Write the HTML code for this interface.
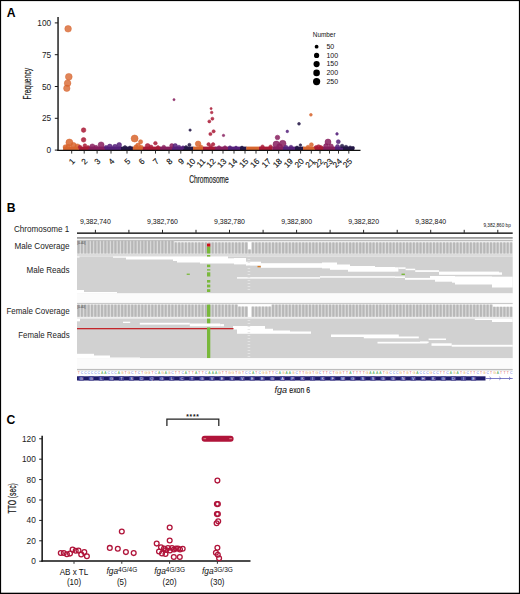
<!DOCTYPE html>
<html><head><meta charset="utf-8"><style>
html,body{margin:0;padding:0;background:#fff;}
svg{display:block;}
text{font-family:"Liberation Sans",sans-serif;}
</style></head><body>
<svg width="520" height="594" viewBox="0 0 520 594">
<rect x="0" y="0" width="520" height="594" fill="#fff"/>
<g id="panelA">
<text x="6.7" y="16.8" font-weight="bold" font-size="12.2" fill="#000">A</text>
<rect x="63.1" y="146.6" width="16.2" height="3.4" fill="#D8662F"/>
<rect x="79.0" y="146.6" width="9.3" height="3.4" fill="#AA1B37"/>
<rect x="88.0" y="146.6" width="17.3" height="3.4" fill="#881F5F"/>
<rect x="105.0" y="146.6" width="16.3" height="3.4" fill="#55217C"/>
<rect x="121.0" y="146.6" width="12.1" height="3.4" fill="#241746"/>
<rect x="132.8" y="146.6" width="10.1" height="3.4" fill="#D8662F"/>
<rect x="142.6" y="146.6" width="17.7" height="3.4" fill="#AA1B37"/>
<rect x="160.0" y="146.6" width="12.3" height="3.4" fill="#881F5F"/>
<rect x="172.0" y="146.6" width="11.3" height="3.4" fill="#55217C"/>
<rect x="183.0" y="146.6" width="10.3" height="3.4" fill="#241746"/>
<rect x="193.0" y="146.6" width="10.3" height="3.4" fill="#D8662F"/>
<rect x="203.0" y="146.6" width="12.3" height="3.4" fill="#AA1B37"/>
<rect x="215.0" y="146.6" width="13.3" height="3.4" fill="#881F5F"/>
<rect x="228.0" y="146.6" width="12.3" height="3.4" fill="#55217C"/>
<rect x="240.0" y="146.6" width="6.6" height="3.4" fill="#241746"/>
<rect x="246.3" y="146.6" width="13.0" height="3.4" fill="#D8662F"/>
<rect x="259.0" y="146.6" width="13.6" height="3.4" fill="#AA1B37"/>
<rect x="272.3" y="146.6" width="11.0" height="3.4" fill="#881F5F"/>
<rect x="283.0" y="146.6" width="12.3" height="3.4" fill="#55217C"/>
<rect x="295.0" y="146.6" width="8.3" height="3.4" fill="#241746"/>
<rect x="303.0" y="146.6" width="12.3" height="3.4" fill="#D8662F"/>
<rect x="315.0" y="146.6" width="8.3" height="3.4" fill="#AA1B37"/>
<rect x="323.0" y="146.6" width="12.3" height="3.4" fill="#881F5F"/>
<rect x="335.0" y="146.6" width="8.3" height="3.4" fill="#55217C"/>
<rect x="343.0" y="146.6" width="11.3" height="3.4" fill="#241746"/>
<circle cx="69.4" cy="142.5" r="3.50" fill="#D8662F" fill-opacity="0.86" stroke="#D8662F" stroke-opacity="0.86" stroke-width="0.6"/>
<circle cx="73.5" cy="145.2" r="2.80" fill="#D8662F" fill-opacity="0.86" stroke="#D8662F" stroke-opacity="0.86" stroke-width="0.6"/>
<circle cx="77.5" cy="146.5" r="2.60" fill="#D8662F" fill-opacity="0.86" stroke="#D8662F" stroke-opacity="0.86" stroke-width="0.6"/>
<circle cx="65.4" cy="147" r="2.30" fill="#D8662F" fill-opacity="0.86" stroke="#D8662F" stroke-opacity="0.86" stroke-width="0.6"/>
<circle cx="68.2" cy="146.5" r="2.20" fill="#D8662F" fill-opacity="0.86" stroke="#D8662F" stroke-opacity="0.86" stroke-width="0.6"/>
<circle cx="83.6" cy="130.1" r="2.30" fill="#AA1B37" fill-opacity="0.86" stroke="#AA1B37" stroke-opacity="0.86" stroke-width="0.6"/>
<circle cx="83.6" cy="139.8" r="2.30" fill="#AA1B37" fill-opacity="0.86" stroke="#AA1B37" stroke-opacity="0.86" stroke-width="0.6"/>
<circle cx="84.9" cy="145.5" r="1.80" fill="#AA1B37" fill-opacity="0.86" stroke="#AA1B37" stroke-opacity="0.86" stroke-width="0.6"/>
<circle cx="80" cy="147" r="1.80" fill="#AA1B37" fill-opacity="0.86" stroke="#AA1B37" stroke-opacity="0.86" stroke-width="0.6"/>
<circle cx="88" cy="147.2" r="1.60" fill="#AA1B37" fill-opacity="0.86" stroke="#AA1B37" stroke-opacity="0.86" stroke-width="0.6"/>
<circle cx="92.3" cy="146.5" r="2.60" fill="#881F5F" fill-opacity="0.86" stroke="#881F5F" stroke-opacity="0.86" stroke-width="0.6"/>
<circle cx="101.1" cy="144.9" r="3.00" fill="#881F5F" fill-opacity="0.86" stroke="#881F5F" stroke-opacity="0.86" stroke-width="0.6"/>
<circle cx="96" cy="147.3" r="2.00" fill="#881F5F" fill-opacity="0.86" stroke="#881F5F" stroke-opacity="0.86" stroke-width="0.6"/>
<circle cx="109.8" cy="146.6" r="2.50" fill="#55217C" fill-opacity="0.86" stroke="#55217C" stroke-opacity="0.86" stroke-width="0.6"/>
<circle cx="115" cy="146.6" r="2.30" fill="#55217C" fill-opacity="0.86" stroke="#55217C" stroke-opacity="0.86" stroke-width="0.6"/>
<circle cx="119.2" cy="144.9" r="2.40" fill="#55217C" fill-opacity="0.86" stroke="#55217C" stroke-opacity="0.86" stroke-width="0.6"/>
<circle cx="106" cy="147.2" r="1.80" fill="#55217C" fill-opacity="0.86" stroke="#55217C" stroke-opacity="0.86" stroke-width="0.6"/>
<circle cx="125" cy="147.4" r="1.80" fill="#241746" fill-opacity="0.86" stroke="#241746" stroke-opacity="0.86" stroke-width="0.6"/>
<circle cx="130" cy="147.6" r="1.60" fill="#241746" fill-opacity="0.86" stroke="#241746" stroke-opacity="0.86" stroke-width="0.6"/>
<circle cx="134.6" cy="138.5" r="3.50" fill="#D8662F" fill-opacity="0.86" stroke="#D8662F" stroke-opacity="0.86" stroke-width="0.6"/>
<circle cx="140.6" cy="141.8" r="2.10" fill="#D8662F" fill-opacity="0.86" stroke="#D8662F" stroke-opacity="0.86" stroke-width="0.6"/>
<circle cx="138" cy="145.5" r="2.40" fill="#D8662F" fill-opacity="0.86" stroke="#D8662F" stroke-opacity="0.86" stroke-width="0.6"/>
<circle cx="136" cy="147" r="2.20" fill="#D8662F" fill-opacity="0.86" stroke="#D8662F" stroke-opacity="0.86" stroke-width="0.6"/>
<circle cx="141.2" cy="147" r="1.80" fill="#D8662F" fill-opacity="0.86" stroke="#D8662F" stroke-opacity="0.86" stroke-width="0.6"/>
<circle cx="147.6" cy="145.9" r="2.40" fill="#AA1B37" fill-opacity="0.86" stroke="#AA1B37" stroke-opacity="0.86" stroke-width="0.6"/>
<circle cx="155.4" cy="143.2" r="1.80" fill="#AA1B37" fill-opacity="0.86" stroke="#AA1B37" stroke-opacity="0.86" stroke-width="0.6"/>
<circle cx="151" cy="147" r="2.00" fill="#AA1B37" fill-opacity="0.86" stroke="#AA1B37" stroke-opacity="0.86" stroke-width="0.6"/>
<circle cx="158" cy="147.2" r="1.60" fill="#AA1B37" fill-opacity="0.86" stroke="#AA1B37" stroke-opacity="0.86" stroke-width="0.6"/>
<circle cx="163.8" cy="147" r="1.80" fill="#881F5F" fill-opacity="0.86" stroke="#881F5F" stroke-opacity="0.86" stroke-width="0.6"/>
<circle cx="171.8" cy="145.7" r="2.10" fill="#881F5F" fill-opacity="0.86" stroke="#881F5F" stroke-opacity="0.86" stroke-width="0.6"/>
<circle cx="174" cy="99.7" r="1.10" fill="#881F5F" fill-opacity="0.86" stroke="#881F5F" stroke-opacity="0.86" stroke-width="0.6"/>
<circle cx="175.2" cy="145.9" r="2.30" fill="#55217C" fill-opacity="0.86" stroke="#55217C" stroke-opacity="0.86" stroke-width="0.6"/>
<circle cx="179" cy="147" r="1.80" fill="#55217C" fill-opacity="0.86" stroke="#55217C" stroke-opacity="0.86" stroke-width="0.6"/>
<circle cx="183" cy="147.4" r="1.60" fill="#55217C" fill-opacity="0.86" stroke="#55217C" stroke-opacity="0.86" stroke-width="0.6"/>
<circle cx="190.1" cy="130.1" r="1.20" fill="#241746" fill-opacity="0.86" stroke="#241746" stroke-opacity="0.86" stroke-width="0.6"/>
<circle cx="189.4" cy="144.9" r="1.60" fill="#241746" fill-opacity="0.86" stroke="#241746" stroke-opacity="0.86" stroke-width="0.6"/>
<circle cx="186" cy="147.2" r="1.60" fill="#241746" fill-opacity="0.86" stroke="#241746" stroke-opacity="0.86" stroke-width="0.6"/>
<circle cx="198.1" cy="143.8" r="2.80" fill="#D8662F" fill-opacity="0.86" stroke="#D8662F" stroke-opacity="0.86" stroke-width="0.6"/>
<circle cx="201" cy="146.8" r="1.80" fill="#D8662F" fill-opacity="0.86" stroke="#D8662F" stroke-opacity="0.86" stroke-width="0.6"/>
<circle cx="211.1" cy="108.6" r="1.10" fill="#AA1B37" fill-opacity="0.86" stroke="#AA1B37" stroke-opacity="0.86" stroke-width="0.6"/>
<circle cx="211.7" cy="112.5" r="1.30" fill="#AA1B37" fill-opacity="0.86" stroke="#AA1B37" stroke-opacity="0.86" stroke-width="0.6"/>
<circle cx="212.4" cy="118.7" r="1.50" fill="#AA1B37" fill-opacity="0.86" stroke="#AA1B37" stroke-opacity="0.86" stroke-width="0.6"/>
<circle cx="209.3" cy="121.4" r="1.50" fill="#AA1B37" fill-opacity="0.86" stroke="#AA1B37" stroke-opacity="0.86" stroke-width="0.6"/>
<circle cx="213.6" cy="131.3" r="1.60" fill="#AA1B37" fill-opacity="0.86" stroke="#AA1B37" stroke-opacity="0.86" stroke-width="0.6"/>
<circle cx="210.4" cy="134" r="1.60" fill="#AA1B37" fill-opacity="0.86" stroke="#AA1B37" stroke-opacity="0.86" stroke-width="0.6"/>
<circle cx="208.6" cy="144.3" r="1.70" fill="#AA1B37" fill-opacity="0.86" stroke="#AA1B37" stroke-opacity="0.86" stroke-width="0.6"/>
<circle cx="213.1" cy="144.3" r="1.70" fill="#AA1B37" fill-opacity="0.86" stroke="#AA1B37" stroke-opacity="0.86" stroke-width="0.6"/>
<circle cx="210.8" cy="146.5" r="1.60" fill="#AA1B37" fill-opacity="0.86" stroke="#AA1B37" stroke-opacity="0.86" stroke-width="0.6"/>
<circle cx="223.5" cy="135.4" r="1.20" fill="#881F5F" fill-opacity="0.86" stroke="#881F5F" stroke-opacity="0.86" stroke-width="0.6"/>
<circle cx="219" cy="147.3" r="1.60" fill="#881F5F" fill-opacity="0.86" stroke="#881F5F" stroke-opacity="0.86" stroke-width="0.6"/>
<circle cx="225" cy="147.3" r="1.60" fill="#881F5F" fill-opacity="0.86" stroke="#881F5F" stroke-opacity="0.86" stroke-width="0.6"/>
<circle cx="230" cy="147.4" r="1.60" fill="#55217C" fill-opacity="0.86" stroke="#55217C" stroke-opacity="0.86" stroke-width="0.6"/>
<circle cx="236" cy="147.5" r="1.40" fill="#55217C" fill-opacity="0.86" stroke="#55217C" stroke-opacity="0.86" stroke-width="0.6"/>
<circle cx="242" cy="147.5" r="1.40" fill="#241746" fill-opacity="0.86" stroke="#241746" stroke-opacity="0.86" stroke-width="0.6"/>
<circle cx="262.5" cy="146.6" r="1.70" fill="#AA1B37" fill-opacity="0.86" stroke="#AA1B37" stroke-opacity="0.86" stroke-width="0.6"/>
<circle cx="270.6" cy="146.6" r="1.70" fill="#AA1B37" fill-opacity="0.86" stroke="#AA1B37" stroke-opacity="0.86" stroke-width="0.6"/>
<circle cx="277.5" cy="137.5" r="2.30" fill="#881F5F" fill-opacity="0.86" stroke="#881F5F" stroke-opacity="0.86" stroke-width="0.6"/>
<circle cx="276.3" cy="144.4" r="3.30" fill="#881F5F" fill-opacity="0.86" stroke="#881F5F" stroke-opacity="0.86" stroke-width="0.6"/>
<circle cx="282.7" cy="143.6" r="3.30" fill="#881F5F" fill-opacity="0.86" stroke="#881F5F" stroke-opacity="0.86" stroke-width="0.6"/>
<circle cx="279.5" cy="146.5" r="2.80" fill="#881F5F" fill-opacity="0.86" stroke="#881F5F" stroke-opacity="0.86" stroke-width="0.6"/>
<circle cx="287.3" cy="131.4" r="1.30" fill="#55217C" fill-opacity="0.86" stroke="#55217C" stroke-opacity="0.86" stroke-width="0.6"/>
<circle cx="286" cy="147" r="1.80" fill="#55217C" fill-opacity="0.86" stroke="#55217C" stroke-opacity="0.86" stroke-width="0.6"/>
<circle cx="291" cy="147" r="1.80" fill="#55217C" fill-opacity="0.86" stroke="#55217C" stroke-opacity="0.86" stroke-width="0.6"/>
<circle cx="299" cy="123.8" r="1.40" fill="#241746" fill-opacity="0.86" stroke="#241746" stroke-opacity="0.86" stroke-width="0.6"/>
<circle cx="300.4" cy="145.1" r="1.30" fill="#241746" fill-opacity="0.86" stroke="#241746" stroke-opacity="0.86" stroke-width="0.6"/>
<circle cx="297" cy="147.4" r="1.40" fill="#241746" fill-opacity="0.86" stroke="#241746" stroke-opacity="0.86" stroke-width="0.6"/>
<circle cx="310.9" cy="114.8" r="1.40" fill="#D8662F" fill-opacity="0.86" stroke="#D8662F" stroke-opacity="0.86" stroke-width="0.6"/>
<circle cx="311.4" cy="144.7" r="2.00" fill="#D8662F" fill-opacity="0.86" stroke="#D8662F" stroke-opacity="0.86" stroke-width="0.6"/>
<circle cx="308" cy="147" r="1.80" fill="#D8662F" fill-opacity="0.86" stroke="#D8662F" stroke-opacity="0.86" stroke-width="0.6"/>
<circle cx="318.6" cy="147" r="2.30" fill="#AA1B37" fill-opacity="0.86" stroke="#AA1B37" stroke-opacity="0.86" stroke-width="0.6"/>
<circle cx="316" cy="147.4" r="1.80" fill="#AA1B37" fill-opacity="0.86" stroke="#AA1B37" stroke-opacity="0.86" stroke-width="0.6"/>
<circle cx="321" cy="147.4" r="1.80" fill="#AA1B37" fill-opacity="0.86" stroke="#AA1B37" stroke-opacity="0.86" stroke-width="0.6"/>
<circle cx="328" cy="142" r="3.00" fill="#881F5F" fill-opacity="0.86" stroke="#881F5F" stroke-opacity="0.86" stroke-width="0.6"/>
<circle cx="326" cy="146" r="2.40" fill="#881F5F" fill-opacity="0.86" stroke="#881F5F" stroke-opacity="0.86" stroke-width="0.6"/>
<circle cx="331" cy="146.3" r="2.40" fill="#881F5F" fill-opacity="0.86" stroke="#881F5F" stroke-opacity="0.86" stroke-width="0.6"/>
<circle cx="337" cy="133.9" r="1.30" fill="#55217C" fill-opacity="0.86" stroke="#55217C" stroke-opacity="0.86" stroke-width="0.6"/>
<circle cx="338.3" cy="141.7" r="2.00" fill="#55217C" fill-opacity="0.86" stroke="#55217C" stroke-opacity="0.86" stroke-width="0.6"/>
<circle cx="337.5" cy="146.5" r="2.00" fill="#55217C" fill-opacity="0.86" stroke="#55217C" stroke-opacity="0.86" stroke-width="0.6"/>
<circle cx="342.1" cy="146" r="1.80" fill="#241746" fill-opacity="0.86" stroke="#241746" stroke-opacity="0.86" stroke-width="0.6"/>
<circle cx="346" cy="147" r="1.80" fill="#241746" fill-opacity="0.86" stroke="#241746" stroke-opacity="0.86" stroke-width="0.6"/>
<circle cx="350.2" cy="147.5" r="1.60" fill="#241746" fill-opacity="0.86" stroke="#241746" stroke-opacity="0.86" stroke-width="0.6"/>
<circle cx="353" cy="148" r="1.40" fill="#241746" fill-opacity="0.86" stroke="#241746" stroke-opacity="0.86" stroke-width="0.6"/>
<circle cx="68.1" cy="28.8" r="3.30" fill="#D8662F" fill-opacity="0.8" stroke="#D8662F" stroke-opacity="0.8" stroke-width="0.6"/>
<circle cx="68.8" cy="76.8" r="3.40" fill="#D8662F" fill-opacity="0.8" stroke="#D8662F" stroke-opacity="0.8" stroke-width="0.6"/>
<circle cx="67.6" cy="83.2" r="3.30" fill="#D8662F" fill-opacity="0.8" stroke="#D8662F" stroke-opacity="0.8" stroke-width="0.6"/>
<circle cx="66.8" cy="88.3" r="3.20" fill="#D8662F" fill-opacity="0.8" stroke="#D8662F" stroke-opacity="0.8" stroke-width="0.6"/>
<line x1="58.05" y1="17" x2="58.05" y2="151" stroke="#222" stroke-width="1.5"/>
<line x1="57.3" y1="150.4" x2="360.5" y2="150.4" stroke="#111" stroke-width="1.4"/>
<line x1="54.8" y1="22.9" x2="58" y2="22.9" stroke="#1a1a1a" stroke-width="1"/>
<text x="51.2" y="25.9" text-anchor="end" font-size="8.3" fill="#222">100</text>
<line x1="54.8" y1="54.7" x2="58" y2="54.7" stroke="#1a1a1a" stroke-width="1"/>
<text x="51.2" y="57.7" text-anchor="end" font-size="8.3" fill="#222">75</text>
<line x1="54.8" y1="86.5" x2="58" y2="86.5" stroke="#1a1a1a" stroke-width="1"/>
<text x="51.2" y="89.5" text-anchor="end" font-size="8.3" fill="#222">50</text>
<line x1="54.8" y1="118.3" x2="58" y2="118.3" stroke="#1a1a1a" stroke-width="1"/>
<text x="51.2" y="121.3" text-anchor="end" font-size="8.3" fill="#222">25</text>
<line x1="54.8" y1="150.1" x2="58" y2="150.1" stroke="#1a1a1a" stroke-width="1"/>
<text x="51.2" y="153.1" text-anchor="end" font-size="8.3" fill="#222">0</text>
<line x1="71.7" y1="150.7" x2="71.7" y2="153.6" stroke="#1a1a1a" stroke-width="0.9"/>
<text transform="translate(71.4,157.7) rotate(-45)" x="0" y="5.9" text-anchor="end" font-size="8.2" fill="#111" stroke="#111" stroke-width="0.15">1</text>
<line x1="84.2" y1="150.7" x2="84.2" y2="153.6" stroke="#1a1a1a" stroke-width="0.9"/>
<text transform="translate(83.9,157.7) rotate(-45)" x="0" y="5.9" text-anchor="end" font-size="8.2" fill="#111" stroke="#111" stroke-width="0.15">2</text>
<line x1="97.1" y1="150.7" x2="97.1" y2="153.6" stroke="#1a1a1a" stroke-width="0.9"/>
<text transform="translate(96.8,157.7) rotate(-45)" x="0" y="5.9" text-anchor="end" font-size="8.2" fill="#111" stroke="#111" stroke-width="0.15">3</text>
<line x1="111" y1="150.7" x2="111" y2="153.6" stroke="#1a1a1a" stroke-width="0.9"/>
<text transform="translate(110.7,157.7) rotate(-45)" x="0" y="5.9" text-anchor="end" font-size="8.2" fill="#111" stroke="#111" stroke-width="0.15">4</text>
<line x1="127" y1="150.7" x2="127" y2="153.6" stroke="#1a1a1a" stroke-width="0.9"/>
<text transform="translate(126.7,157.7) rotate(-45)" x="0" y="5.9" text-anchor="end" font-size="8.2" fill="#111" stroke="#111" stroke-width="0.15">5</text>
<line x1="141.3" y1="150.7" x2="141.3" y2="153.6" stroke="#1a1a1a" stroke-width="0.9"/>
<text transform="translate(141.0,157.7) rotate(-45)" x="0" y="5.9" text-anchor="end" font-size="8.2" fill="#111" stroke="#111" stroke-width="0.15">6</text>
<line x1="155.5" y1="150.7" x2="155.5" y2="153.6" stroke="#1a1a1a" stroke-width="0.9"/>
<text transform="translate(155.2,157.7) rotate(-45)" x="0" y="5.9" text-anchor="end" font-size="8.2" fill="#111" stroke="#111" stroke-width="0.15">7</text>
<line x1="169" y1="150.7" x2="169" y2="153.6" stroke="#1a1a1a" stroke-width="0.9"/>
<text transform="translate(168.7,157.7) rotate(-45)" x="0" y="5.9" text-anchor="end" font-size="8.2" fill="#111" stroke="#111" stroke-width="0.15">8</text>
<line x1="180.8" y1="150.7" x2="180.8" y2="153.6" stroke="#1a1a1a" stroke-width="0.9"/>
<text transform="translate(180.5,157.7) rotate(-45)" x="0" y="5.9" text-anchor="end" font-size="8.2" fill="#111" stroke="#111" stroke-width="0.15">9</text>
<line x1="192.2" y1="150.7" x2="192.2" y2="153.6" stroke="#1a1a1a" stroke-width="0.9"/>
<text transform="translate(191.9,157.7) rotate(-45)" x="0" y="5.9" text-anchor="end" font-size="8.2" fill="#111" stroke="#111" stroke-width="0.15">10</text>
<line x1="202.2" y1="150.7" x2="202.2" y2="153.6" stroke="#1a1a1a" stroke-width="0.9"/>
<text transform="translate(201.9,157.7) rotate(-45)" x="0" y="5.9" text-anchor="end" font-size="8.2" fill="#111" stroke="#111" stroke-width="0.15">11</text>
<line x1="212.3" y1="150.7" x2="212.3" y2="153.6" stroke="#1a1a1a" stroke-width="0.9"/>
<text transform="translate(212.0,157.7) rotate(-45)" x="0" y="5.9" text-anchor="end" font-size="8.2" fill="#111" stroke="#111" stroke-width="0.15">12</text>
<line x1="223" y1="150.7" x2="223" y2="153.6" stroke="#1a1a1a" stroke-width="0.9"/>
<text transform="translate(222.7,157.7) rotate(-45)" x="0" y="5.9" text-anchor="end" font-size="8.2" fill="#111" stroke="#111" stroke-width="0.15">13</text>
<line x1="234" y1="150.7" x2="234" y2="153.6" stroke="#1a1a1a" stroke-width="0.9"/>
<text transform="translate(233.7,157.7) rotate(-45)" x="0" y="5.9" text-anchor="end" font-size="8.2" fill="#111" stroke="#111" stroke-width="0.15">14</text>
<line x1="245" y1="150.7" x2="245" y2="153.6" stroke="#1a1a1a" stroke-width="0.9"/>
<text transform="translate(244.7,157.7) rotate(-45)" x="0" y="5.9" text-anchor="end" font-size="8.2" fill="#111" stroke="#111" stroke-width="0.15">15</text>
<line x1="256" y1="150.7" x2="256" y2="153.6" stroke="#1a1a1a" stroke-width="0.9"/>
<text transform="translate(255.7,157.7) rotate(-45)" x="0" y="5.9" text-anchor="end" font-size="8.2" fill="#111" stroke="#111" stroke-width="0.15">16</text>
<line x1="267.5" y1="150.7" x2="267.5" y2="153.6" stroke="#1a1a1a" stroke-width="0.9"/>
<text transform="translate(267.2,157.7) rotate(-45)" x="0" y="5.9" text-anchor="end" font-size="8.2" fill="#111" stroke="#111" stroke-width="0.15">17</text>
<line x1="278.7" y1="150.7" x2="278.7" y2="153.6" stroke="#1a1a1a" stroke-width="0.9"/>
<text transform="translate(278.4,157.7) rotate(-45)" x="0" y="5.9" text-anchor="end" font-size="8.2" fill="#111" stroke="#111" stroke-width="0.15">18</text>
<line x1="289.7" y1="150.7" x2="289.7" y2="153.6" stroke="#1a1a1a" stroke-width="0.9"/>
<text transform="translate(289.4,157.7) rotate(-45)" x="0" y="5.9" text-anchor="end" font-size="8.2" fill="#111" stroke="#111" stroke-width="0.15">19</text>
<line x1="300.6" y1="150.7" x2="300.6" y2="153.6" stroke="#1a1a1a" stroke-width="0.9"/>
<text transform="translate(300.3,157.7) rotate(-45)" x="0" y="5.9" text-anchor="end" font-size="8.2" fill="#111" stroke="#111" stroke-width="0.15">20</text>
<line x1="311.3" y1="150.7" x2="311.3" y2="153.6" stroke="#1a1a1a" stroke-width="0.9"/>
<text transform="translate(311.0,157.7) rotate(-45)" x="0" y="5.9" text-anchor="end" font-size="8.2" fill="#111" stroke="#111" stroke-width="0.15">21</text>
<line x1="320" y1="150.7" x2="320" y2="153.6" stroke="#1a1a1a" stroke-width="0.9"/>
<text transform="translate(319.7,157.7) rotate(-45)" x="0" y="5.9" text-anchor="end" font-size="8.2" fill="#111" stroke="#111" stroke-width="0.15">22</text>
<line x1="329.5" y1="150.7" x2="329.5" y2="153.6" stroke="#1a1a1a" stroke-width="0.9"/>
<text transform="translate(329.2,157.7) rotate(-45)" x="0" y="5.9" text-anchor="end" font-size="8.2" fill="#111" stroke="#111" stroke-width="0.15">23</text>
<line x1="338.5" y1="150.7" x2="338.5" y2="153.6" stroke="#1a1a1a" stroke-width="0.9"/>
<text transform="translate(338.2,157.7) rotate(-45)" x="0" y="5.9" text-anchor="end" font-size="8.2" fill="#111" stroke="#111" stroke-width="0.15">24</text>
<line x1="348.8" y1="150.7" x2="348.8" y2="153.6" stroke="#1a1a1a" stroke-width="0.9"/>
<text transform="translate(348.5,157.7) rotate(-45)" x="0" y="5.9" text-anchor="end" font-size="8.2" fill="#111" stroke="#111" stroke-width="0.15">25</text>
<text x="209" y="182.7" text-anchor="middle" font-size="10.4" textLength="39.6" lengthAdjust="spacingAndGlyphs" fill="#222" stroke="#222" stroke-width="0.2">Chromosome</text>
<text transform="translate(30.7,83.8) rotate(-90)" x="0" y="0" text-anchor="middle" font-size="10.8" textLength="31.6" lengthAdjust="spacingAndGlyphs" fill="#222" stroke="#222" stroke-width="0.2">Frequency</text>
<text x="312.8" y="36.6" font-size="6.4" fill="#111">Number</text>
<circle cx="316.6" cy="46.7" r="1.9" fill="#000"/>
<text x="326.4" y="48.9" font-size="7" fill="#111">50</text>
<circle cx="316.6" cy="55.4" r="2.6" fill="#000"/>
<text x="326.4" y="57.6" font-size="7" fill="#111">100</text>
<circle cx="316.6" cy="64.1" r="3.1" fill="#000"/>
<text x="326.4" y="66.3" font-size="7" fill="#111">150</text>
<circle cx="316.6" cy="72.9" r="3.3" fill="#000"/>
<text x="326.4" y="75.1" font-size="7" fill="#111">200</text>
<circle cx="316.6" cy="81.6" r="3.6" fill="#000"/>
<text x="326.4" y="83.8" font-size="7" fill="#111">250</text>
</g>
<g id="panelB">
<text x="6.8" y="211.9" font-weight="bold" font-size="12.2" fill="#000">B</text>
<text x="69.2" y="231.9" text-anchor="end" font-size="9.45" textLength="55.3" lengthAdjust="spacingAndGlyphs" fill="#222">Chromosome 1</text>
<text x="69.6" y="248.7" text-anchor="end" font-size="9.45" textLength="55.2" lengthAdjust="spacingAndGlyphs" fill="#222">Male Coverage</text>
<text x="69.6" y="272.5" text-anchor="end" font-size="9.45" textLength="43.2" lengthAdjust="spacingAndGlyphs" fill="#222">Male Reads</text>
<text x="69.6" y="313.7" text-anchor="end" font-size="9.45" textLength="63.2" lengthAdjust="spacingAndGlyphs" fill="#222">Female Coverage</text>
<text x="69.6" y="338.0" text-anchor="end" font-size="9.45" textLength="51.3" lengthAdjust="spacingAndGlyphs" fill="#222">Female Reads</text>
<text x="95.4" y="223.8" text-anchor="middle" font-size="6.95" fill="#111">9,382,740</text>
<text x="162.5" y="223.8" text-anchor="middle" font-size="6.95" fill="#111">9,382,760</text>
<text x="229.5" y="223.8" text-anchor="middle" font-size="6.95" fill="#111">9,382,780</text>
<text x="296.6" y="223.8" text-anchor="middle" font-size="6.95" fill="#111">9,382,800</text>
<text x="363.6" y="223.8" text-anchor="middle" font-size="6.95" fill="#111">9,382,820</text>
<text x="430.7" y="223.8" text-anchor="middle" font-size="6.95" fill="#111">9,382,840</text>
<text x="510.8" y="227.3" text-anchor="end" font-size="4.7" fill="#111">9,382,860 bp</text>
<rect x="77.0" y="232.4" width="435.70000000000005" height="1.5" fill="#222"/>
<rect x="94.9" y="229.8" width="1" height="3.1" fill="#222"/>
<rect x="128.4" y="229.8" width="1" height="3.1" fill="#222"/>
<rect x="162.0" y="229.8" width="1" height="3.1" fill="#222"/>
<rect x="195.5" y="229.8" width="1" height="3.1" fill="#222"/>
<rect x="229.0" y="229.8" width="1" height="3.1" fill="#222"/>
<rect x="262.6" y="229.8" width="1" height="3.1" fill="#222"/>
<rect x="296.1" y="229.8" width="1" height="3.1" fill="#222"/>
<rect x="329.6" y="229.8" width="1" height="3.1" fill="#222"/>
<rect x="363.1" y="229.8" width="1" height="3.1" fill="#222"/>
<rect x="396.7" y="229.8" width="1" height="3.1" fill="#222"/>
<rect x="430.2" y="229.8" width="1" height="3.1" fill="#222"/>
<rect x="463.7" y="229.8" width="1" height="3.1" fill="#222"/>
<rect x="497.3" y="229.8" width="1" height="3.1" fill="#222"/>
<rect x="77.0" y="237.0" width="435.70000000000005" height="1.8" fill="#9c9c9c"/>
<rect x="77.0" y="239.8" width="435.70000000000005" height="1.5" fill="#bdbdbd"/>
<rect x="77.00" y="240.6" width="3.35" height="13.1" fill="#d0d0d0"/>
<rect x="77.60" y="240.6" width="1.85" height="13.1" fill="#b7b7b7"/>
<rect x="80.35" y="240.6" width="3.35" height="13.1" fill="#d0d0d0"/>
<rect x="80.95" y="240.6" width="1.85" height="13.1" fill="#b7b7b7"/>
<rect x="83.71" y="240.6" width="3.35" height="13.1" fill="#d0d0d0"/>
<rect x="84.31" y="240.6" width="1.85" height="13.1" fill="#b7b7b7"/>
<rect x="87.06" y="240.6" width="3.35" height="13.1" fill="#d0d0d0"/>
<rect x="87.66" y="240.6" width="1.85" height="13.1" fill="#b7b7b7"/>
<rect x="90.41" y="240.6" width="3.35" height="13.1" fill="#d0d0d0"/>
<rect x="91.01" y="240.6" width="1.85" height="13.1" fill="#b7b7b7"/>
<rect x="93.77" y="240.6" width="3.35" height="13.1" fill="#d0d0d0"/>
<rect x="94.36" y="240.6" width="1.85" height="13.1" fill="#b7b7b7"/>
<rect x="97.12" y="240.6" width="3.35" height="13.1" fill="#d0d0d0"/>
<rect x="97.72" y="240.6" width="1.85" height="13.1" fill="#b7b7b7"/>
<rect x="100.47" y="240.6" width="3.35" height="13.1" fill="#d0d0d0"/>
<rect x="101.07" y="240.6" width="1.85" height="13.1" fill="#b7b7b7"/>
<rect x="103.82" y="240.6" width="3.35" height="13.1" fill="#d0d0d0"/>
<rect x="104.42" y="240.6" width="1.85" height="13.1" fill="#b7b7b7"/>
<rect x="107.18" y="240.6" width="3.35" height="13.1" fill="#d0d0d0"/>
<rect x="107.78" y="240.6" width="1.85" height="13.1" fill="#b7b7b7"/>
<rect x="110.53" y="240.6" width="3.35" height="13.1" fill="#d0d0d0"/>
<rect x="111.13" y="240.6" width="1.85" height="13.1" fill="#b7b7b7"/>
<rect x="113.88" y="240.6" width="3.35" height="13.1" fill="#d0d0d0"/>
<rect x="114.48" y="240.6" width="1.85" height="13.1" fill="#b7b7b7"/>
<rect x="117.24" y="240.6" width="3.35" height="13.1" fill="#d0d0d0"/>
<rect x="117.84" y="240.6" width="1.85" height="13.1" fill="#b7b7b7"/>
<rect x="120.59" y="240.6" width="3.35" height="13.1" fill="#d0d0d0"/>
<rect x="121.19" y="240.6" width="1.85" height="13.1" fill="#b7b7b7"/>
<rect x="123.94" y="240.6" width="3.35" height="13.1" fill="#d0d0d0"/>
<rect x="124.54" y="240.6" width="1.85" height="13.1" fill="#b7b7b7"/>
<rect x="127.30" y="240.6" width="3.35" height="13.1" fill="#d0d0d0"/>
<rect x="127.89" y="240.6" width="1.85" height="13.1" fill="#b7b7b7"/>
<rect x="130.65" y="240.6" width="3.35" height="13.1" fill="#d0d0d0"/>
<rect x="131.25" y="240.6" width="1.85" height="13.1" fill="#b7b7b7"/>
<rect x="134.00" y="240.6" width="3.35" height="13.1" fill="#d0d0d0"/>
<rect x="134.60" y="240.6" width="1.85" height="13.1" fill="#b7b7b7"/>
<rect x="137.35" y="240.6" width="3.35" height="13.1" fill="#d0d0d0"/>
<rect x="137.95" y="240.6" width="1.85" height="13.1" fill="#b7b7b7"/>
<rect x="140.71" y="240.6" width="3.35" height="13.1" fill="#d0d0d0"/>
<rect x="141.31" y="240.6" width="1.85" height="13.1" fill="#b7b7b7"/>
<rect x="144.06" y="240.6" width="3.35" height="13.1" fill="#d0d0d0"/>
<rect x="144.66" y="240.6" width="1.85" height="13.1" fill="#b7b7b7"/>
<rect x="147.41" y="240.6" width="3.35" height="13.1" fill="#d0d0d0"/>
<rect x="148.01" y="240.6" width="1.85" height="13.1" fill="#b7b7b7"/>
<rect x="150.77" y="240.6" width="3.35" height="13.1" fill="#d0d0d0"/>
<rect x="151.37" y="240.6" width="1.85" height="13.1" fill="#b7b7b7"/>
<rect x="154.12" y="240.6" width="3.35" height="13.1" fill="#d0d0d0"/>
<rect x="154.72" y="240.6" width="1.85" height="13.1" fill="#b7b7b7"/>
<rect x="157.47" y="240.6" width="3.35" height="13.1" fill="#d0d0d0"/>
<rect x="158.07" y="240.6" width="1.85" height="13.1" fill="#b7b7b7"/>
<rect x="160.82" y="240.6" width="3.35" height="13.1" fill="#d0d0d0"/>
<rect x="161.42" y="240.6" width="1.85" height="13.1" fill="#b7b7b7"/>
<rect x="164.18" y="240.6" width="3.35" height="13.1" fill="#d0d0d0"/>
<rect x="164.78" y="240.6" width="1.85" height="13.1" fill="#b7b7b7"/>
<rect x="167.53" y="240.6" width="3.35" height="13.1" fill="#d0d0d0"/>
<rect x="168.13" y="240.6" width="1.85" height="13.1" fill="#b7b7b7"/>
<rect x="170.88" y="240.6" width="3.35" height="13.1" fill="#d0d0d0"/>
<rect x="171.48" y="240.6" width="1.85" height="13.1" fill="#b7b7b7"/>
<rect x="174.24" y="242.4" width="3.35" height="11.3" fill="#d0d0d0"/>
<rect x="174.84" y="242.4" width="1.85" height="11.3" fill="#b7b7b7"/>
<rect x="177.59" y="242.4" width="3.35" height="11.3" fill="#d0d0d0"/>
<rect x="178.19" y="242.4" width="1.85" height="11.3" fill="#b7b7b7"/>
<rect x="180.94" y="242.4" width="3.35" height="11.3" fill="#d0d0d0"/>
<rect x="181.54" y="242.4" width="1.85" height="11.3" fill="#b7b7b7"/>
<rect x="184.30" y="242.4" width="3.35" height="11.3" fill="#d0d0d0"/>
<rect x="184.90" y="242.4" width="1.85" height="11.3" fill="#b7b7b7"/>
<rect x="187.65" y="242.4" width="3.35" height="11.3" fill="#d0d0d0"/>
<rect x="188.25" y="242.4" width="1.85" height="11.3" fill="#b7b7b7"/>
<rect x="191.00" y="242.4" width="3.35" height="11.3" fill="#d0d0d0"/>
<rect x="191.60" y="242.4" width="1.85" height="11.3" fill="#b7b7b7"/>
<rect x="194.36" y="242.4" width="3.35" height="11.3" fill="#d0d0d0"/>
<rect x="194.96" y="242.4" width="1.85" height="11.3" fill="#b7b7b7"/>
<rect x="197.71" y="242.4" width="3.35" height="11.3" fill="#d0d0d0"/>
<rect x="198.31" y="242.4" width="1.85" height="11.3" fill="#b7b7b7"/>
<rect x="201.06" y="242.4" width="3.35" height="11.3" fill="#d0d0d0"/>
<rect x="201.66" y="242.4" width="1.85" height="11.3" fill="#b7b7b7"/>
<rect x="204.41" y="242.4" width="3.35" height="11.3" fill="#d0d0d0"/>
<rect x="205.01" y="242.4" width="1.85" height="11.3" fill="#b7b7b7"/>
<rect x="207.77" y="242.4" width="3.35" height="11.3" fill="#d0d0d0"/>
<rect x="208.37" y="242.4" width="1.85" height="11.3" fill="#b7b7b7"/>
<rect x="211.12" y="242.4" width="3.35" height="11.3" fill="#d0d0d0"/>
<rect x="211.72" y="242.4" width="1.85" height="11.3" fill="#b7b7b7"/>
<rect x="214.47" y="242.4" width="3.35" height="11.3" fill="#d0d0d0"/>
<rect x="215.07" y="242.4" width="1.85" height="11.3" fill="#b7b7b7"/>
<rect x="217.83" y="242.4" width="3.35" height="11.3" fill="#d0d0d0"/>
<rect x="218.43" y="242.4" width="1.85" height="11.3" fill="#b7b7b7"/>
<rect x="221.18" y="242.4" width="3.35" height="11.3" fill="#d0d0d0"/>
<rect x="221.78" y="242.4" width="1.85" height="11.3" fill="#b7b7b7"/>
<rect x="224.53" y="242.4" width="3.35" height="11.3" fill="#d0d0d0"/>
<rect x="225.13" y="242.4" width="1.85" height="11.3" fill="#b7b7b7"/>
<rect x="227.89" y="242.4" width="3.35" height="11.3" fill="#d0d0d0"/>
<rect x="228.49" y="242.4" width="1.85" height="11.3" fill="#b7b7b7"/>
<rect x="231.24" y="242.4" width="3.35" height="11.3" fill="#d0d0d0"/>
<rect x="231.84" y="242.4" width="1.85" height="11.3" fill="#b7b7b7"/>
<rect x="234.59" y="242.4" width="3.35" height="11.3" fill="#d0d0d0"/>
<rect x="235.19" y="242.4" width="1.85" height="11.3" fill="#b7b7b7"/>
<rect x="237.94" y="242.4" width="3.35" height="11.3" fill="#d0d0d0"/>
<rect x="238.54" y="242.4" width="1.85" height="11.3" fill="#b7b7b7"/>
<rect x="241.30" y="242.4" width="3.35" height="11.3" fill="#d0d0d0"/>
<rect x="241.90" y="242.4" width="1.85" height="11.3" fill="#b7b7b7"/>
<rect x="244.65" y="242.4" width="3.35" height="11.3" fill="#d0d0d0"/>
<rect x="245.25" y="242.4" width="1.85" height="11.3" fill="#b7b7b7"/>
<rect x="248.00" y="249.5" width="3.35" height="4.2" fill="#d0d0d0"/>
<rect x="248.60" y="249.5" width="1.85" height="4.2" fill="#b7b7b7"/>
<rect x="251.36" y="242.4" width="3.35" height="11.3" fill="#d0d0d0"/>
<rect x="251.96" y="242.4" width="1.85" height="11.3" fill="#b7b7b7"/>
<rect x="254.71" y="242.4" width="3.35" height="11.3" fill="#d0d0d0"/>
<rect x="255.31" y="242.4" width="1.85" height="11.3" fill="#b7b7b7"/>
<rect x="258.06" y="242.4" width="3.35" height="11.3" fill="#d0d0d0"/>
<rect x="258.66" y="242.4" width="1.85" height="11.3" fill="#b7b7b7"/>
<rect x="261.42" y="242.4" width="3.35" height="11.3" fill="#d0d0d0"/>
<rect x="262.02" y="242.4" width="1.85" height="11.3" fill="#b7b7b7"/>
<rect x="264.77" y="242.4" width="3.35" height="11.3" fill="#d0d0d0"/>
<rect x="265.37" y="242.4" width="1.85" height="11.3" fill="#b7b7b7"/>
<rect x="268.12" y="242.4" width="3.35" height="11.3" fill="#d0d0d0"/>
<rect x="268.72" y="242.4" width="1.85" height="11.3" fill="#b7b7b7"/>
<rect x="271.47" y="242.4" width="3.35" height="11.3" fill="#d0d0d0"/>
<rect x="272.07" y="242.4" width="1.85" height="11.3" fill="#b7b7b7"/>
<rect x="274.83" y="242.4" width="3.35" height="11.3" fill="#d0d0d0"/>
<rect x="275.43" y="242.4" width="1.85" height="11.3" fill="#b7b7b7"/>
<rect x="278.18" y="242.4" width="3.35" height="11.3" fill="#d0d0d0"/>
<rect x="278.78" y="242.4" width="1.85" height="11.3" fill="#b7b7b7"/>
<rect x="281.53" y="242.4" width="3.35" height="11.3" fill="#d0d0d0"/>
<rect x="282.13" y="242.4" width="1.85" height="11.3" fill="#b7b7b7"/>
<rect x="284.89" y="242.4" width="3.35" height="11.3" fill="#d0d0d0"/>
<rect x="285.49" y="242.4" width="1.85" height="11.3" fill="#b7b7b7"/>
<rect x="288.24" y="242.4" width="3.35" height="11.3" fill="#d0d0d0"/>
<rect x="288.84" y="242.4" width="1.85" height="11.3" fill="#b7b7b7"/>
<rect x="291.59" y="242.4" width="3.35" height="11.3" fill="#d0d0d0"/>
<rect x="292.19" y="242.4" width="1.85" height="11.3" fill="#b7b7b7"/>
<rect x="294.95" y="242.4" width="3.35" height="11.3" fill="#d0d0d0"/>
<rect x="295.55" y="242.4" width="1.85" height="11.3" fill="#b7b7b7"/>
<rect x="298.30" y="242.4" width="3.35" height="11.3" fill="#d0d0d0"/>
<rect x="298.90" y="242.4" width="1.85" height="11.3" fill="#b7b7b7"/>
<rect x="301.65" y="242.4" width="3.35" height="11.3" fill="#d0d0d0"/>
<rect x="302.25" y="242.4" width="1.85" height="11.3" fill="#b7b7b7"/>
<rect x="305.00" y="242.4" width="3.35" height="11.3" fill="#d0d0d0"/>
<rect x="305.60" y="242.4" width="1.85" height="11.3" fill="#b7b7b7"/>
<rect x="308.36" y="242.4" width="3.35" height="11.3" fill="#d0d0d0"/>
<rect x="308.96" y="242.4" width="1.85" height="11.3" fill="#b7b7b7"/>
<rect x="311.71" y="242.4" width="3.35" height="11.3" fill="#d0d0d0"/>
<rect x="312.31" y="242.4" width="1.85" height="11.3" fill="#b7b7b7"/>
<rect x="315.06" y="242.4" width="3.35" height="11.3" fill="#d0d0d0"/>
<rect x="315.66" y="242.4" width="1.85" height="11.3" fill="#b7b7b7"/>
<rect x="318.42" y="242.4" width="3.35" height="11.3" fill="#d0d0d0"/>
<rect x="319.02" y="242.4" width="1.85" height="11.3" fill="#b7b7b7"/>
<rect x="321.77" y="242.4" width="3.35" height="11.3" fill="#d0d0d0"/>
<rect x="322.37" y="242.4" width="1.85" height="11.3" fill="#b7b7b7"/>
<rect x="325.12" y="242.4" width="3.35" height="11.3" fill="#d0d0d0"/>
<rect x="325.72" y="242.4" width="1.85" height="11.3" fill="#b7b7b7"/>
<rect x="328.48" y="242.4" width="3.35" height="11.3" fill="#d0d0d0"/>
<rect x="329.08" y="242.4" width="1.85" height="11.3" fill="#b7b7b7"/>
<rect x="331.83" y="242.4" width="3.35" height="11.3" fill="#d0d0d0"/>
<rect x="332.43" y="242.4" width="1.85" height="11.3" fill="#b7b7b7"/>
<rect x="335.18" y="242.4" width="3.35" height="11.3" fill="#d0d0d0"/>
<rect x="335.78" y="242.4" width="1.85" height="11.3" fill="#b7b7b7"/>
<rect x="338.53" y="242.4" width="3.35" height="11.3" fill="#d0d0d0"/>
<rect x="339.13" y="242.4" width="1.85" height="11.3" fill="#b7b7b7"/>
<rect x="341.89" y="242.4" width="3.35" height="11.3" fill="#d0d0d0"/>
<rect x="342.49" y="242.4" width="1.85" height="11.3" fill="#b7b7b7"/>
<rect x="345.24" y="242.4" width="3.35" height="11.3" fill="#d0d0d0"/>
<rect x="345.84" y="242.4" width="1.85" height="11.3" fill="#b7b7b7"/>
<rect x="348.59" y="242.4" width="3.35" height="11.3" fill="#d0d0d0"/>
<rect x="349.19" y="242.4" width="1.85" height="11.3" fill="#b7b7b7"/>
<rect x="351.95" y="242.4" width="3.35" height="11.3" fill="#d0d0d0"/>
<rect x="352.55" y="242.4" width="1.85" height="11.3" fill="#b7b7b7"/>
<rect x="355.30" y="242.4" width="3.35" height="11.3" fill="#d0d0d0"/>
<rect x="355.90" y="242.4" width="1.85" height="11.3" fill="#b7b7b7"/>
<rect x="358.65" y="242.4" width="3.35" height="11.3" fill="#d0d0d0"/>
<rect x="359.25" y="242.4" width="1.85" height="11.3" fill="#b7b7b7"/>
<rect x="362.00" y="242.4" width="3.35" height="11.3" fill="#d0d0d0"/>
<rect x="362.61" y="242.4" width="1.85" height="11.3" fill="#b7b7b7"/>
<rect x="365.36" y="242.4" width="3.35" height="11.3" fill="#d0d0d0"/>
<rect x="365.96" y="242.4" width="1.85" height="11.3" fill="#b7b7b7"/>
<rect x="368.71" y="242.4" width="3.35" height="11.3" fill="#d0d0d0"/>
<rect x="369.31" y="242.4" width="1.85" height="11.3" fill="#b7b7b7"/>
<rect x="372.06" y="242.4" width="3.35" height="11.3" fill="#d0d0d0"/>
<rect x="372.66" y="242.4" width="1.85" height="11.3" fill="#b7b7b7"/>
<rect x="375.42" y="242.4" width="3.35" height="11.3" fill="#d0d0d0"/>
<rect x="376.02" y="242.4" width="1.85" height="11.3" fill="#b7b7b7"/>
<rect x="378.77" y="242.4" width="3.35" height="11.3" fill="#d0d0d0"/>
<rect x="379.37" y="242.4" width="1.85" height="11.3" fill="#b7b7b7"/>
<rect x="382.12" y="242.4" width="3.35" height="11.3" fill="#d0d0d0"/>
<rect x="382.72" y="242.4" width="1.85" height="11.3" fill="#b7b7b7"/>
<rect x="385.48" y="242.4" width="3.35" height="11.3" fill="#d0d0d0"/>
<rect x="386.08" y="242.4" width="1.85" height="11.3" fill="#b7b7b7"/>
<rect x="388.83" y="242.4" width="3.35" height="11.3" fill="#d0d0d0"/>
<rect x="389.43" y="242.4" width="1.85" height="11.3" fill="#b7b7b7"/>
<rect x="392.18" y="242.4" width="3.35" height="11.3" fill="#d0d0d0"/>
<rect x="392.78" y="242.4" width="1.85" height="11.3" fill="#b7b7b7"/>
<rect x="395.54" y="242.4" width="3.35" height="11.3" fill="#d0d0d0"/>
<rect x="396.14" y="242.4" width="1.85" height="11.3" fill="#b7b7b7"/>
<rect x="398.89" y="242.4" width="3.35" height="11.3" fill="#d0d0d0"/>
<rect x="399.49" y="242.4" width="1.85" height="11.3" fill="#b7b7b7"/>
<rect x="402.24" y="242.4" width="3.35" height="11.3" fill="#d0d0d0"/>
<rect x="402.84" y="242.4" width="1.85" height="11.3" fill="#b7b7b7"/>
<rect x="405.59" y="242.4" width="3.35" height="11.3" fill="#d0d0d0"/>
<rect x="406.19" y="242.4" width="1.85" height="11.3" fill="#b7b7b7"/>
<rect x="408.95" y="242.4" width="3.35" height="11.3" fill="#d0d0d0"/>
<rect x="409.55" y="242.4" width="1.85" height="11.3" fill="#b7b7b7"/>
<rect x="412.30" y="242.4" width="3.35" height="11.3" fill="#d0d0d0"/>
<rect x="412.90" y="242.4" width="1.85" height="11.3" fill="#b7b7b7"/>
<rect x="415.65" y="242.4" width="3.35" height="11.3" fill="#d0d0d0"/>
<rect x="416.25" y="242.4" width="1.85" height="11.3" fill="#b7b7b7"/>
<rect x="419.01" y="242.4" width="3.35" height="11.3" fill="#d0d0d0"/>
<rect x="419.61" y="242.4" width="1.85" height="11.3" fill="#b7b7b7"/>
<rect x="422.36" y="242.4" width="3.35" height="11.3" fill="#d0d0d0"/>
<rect x="422.96" y="242.4" width="1.85" height="11.3" fill="#b7b7b7"/>
<rect x="425.71" y="242.4" width="3.35" height="11.3" fill="#d0d0d0"/>
<rect x="426.31" y="242.4" width="1.85" height="11.3" fill="#b7b7b7"/>
<rect x="429.06" y="242.4" width="3.35" height="11.3" fill="#d0d0d0"/>
<rect x="429.67" y="242.4" width="1.85" height="11.3" fill="#b7b7b7"/>
<rect x="432.42" y="242.4" width="3.35" height="11.3" fill="#d0d0d0"/>
<rect x="433.02" y="242.4" width="1.85" height="11.3" fill="#b7b7b7"/>
<rect x="435.77" y="242.4" width="3.35" height="11.3" fill="#d0d0d0"/>
<rect x="436.37" y="242.4" width="1.85" height="11.3" fill="#b7b7b7"/>
<rect x="439.12" y="242.4" width="3.35" height="11.3" fill="#d0d0d0"/>
<rect x="439.72" y="242.4" width="1.85" height="11.3" fill="#b7b7b7"/>
<rect x="442.48" y="242.4" width="3.35" height="11.3" fill="#d0d0d0"/>
<rect x="443.08" y="242.4" width="1.85" height="11.3" fill="#b7b7b7"/>
<rect x="445.83" y="242.4" width="3.35" height="11.3" fill="#d0d0d0"/>
<rect x="446.43" y="242.4" width="1.85" height="11.3" fill="#b7b7b7"/>
<rect x="449.18" y="242.4" width="3.35" height="11.3" fill="#d0d0d0"/>
<rect x="449.78" y="242.4" width="1.85" height="11.3" fill="#b7b7b7"/>
<rect x="452.54" y="242.4" width="3.35" height="11.3" fill="#d0d0d0"/>
<rect x="453.14" y="242.4" width="1.85" height="11.3" fill="#b7b7b7"/>
<rect x="455.89" y="242.4" width="3.35" height="11.3" fill="#d0d0d0"/>
<rect x="456.49" y="242.4" width="1.85" height="11.3" fill="#b7b7b7"/>
<rect x="459.24" y="242.4" width="3.35" height="11.3" fill="#d0d0d0"/>
<rect x="459.84" y="242.4" width="1.85" height="11.3" fill="#b7b7b7"/>
<rect x="462.60" y="242.4" width="3.35" height="11.3" fill="#d0d0d0"/>
<rect x="463.20" y="242.4" width="1.85" height="11.3" fill="#b7b7b7"/>
<rect x="465.95" y="242.4" width="3.35" height="11.3" fill="#d0d0d0"/>
<rect x="466.55" y="242.4" width="1.85" height="11.3" fill="#b7b7b7"/>
<rect x="469.30" y="242.4" width="3.35" height="11.3" fill="#d0d0d0"/>
<rect x="469.90" y="242.4" width="1.85" height="11.3" fill="#b7b7b7"/>
<rect x="472.65" y="242.4" width="3.35" height="11.3" fill="#d0d0d0"/>
<rect x="473.25" y="242.4" width="1.85" height="11.3" fill="#b7b7b7"/>
<rect x="476.01" y="242.4" width="3.35" height="11.3" fill="#d0d0d0"/>
<rect x="476.61" y="242.4" width="1.85" height="11.3" fill="#b7b7b7"/>
<rect x="479.36" y="242.4" width="3.35" height="11.3" fill="#d0d0d0"/>
<rect x="479.96" y="242.4" width="1.85" height="11.3" fill="#b7b7b7"/>
<rect x="482.71" y="242.4" width="3.35" height="11.3" fill="#d0d0d0"/>
<rect x="483.31" y="242.4" width="1.85" height="11.3" fill="#b7b7b7"/>
<rect x="486.07" y="242.4" width="3.35" height="11.3" fill="#d0d0d0"/>
<rect x="486.67" y="242.4" width="1.85" height="11.3" fill="#b7b7b7"/>
<rect x="489.42" y="242.4" width="3.35" height="11.3" fill="#d0d0d0"/>
<rect x="490.02" y="242.4" width="1.85" height="11.3" fill="#b7b7b7"/>
<rect x="492.77" y="242.4" width="3.35" height="11.3" fill="#d0d0d0"/>
<rect x="493.37" y="242.4" width="1.85" height="11.3" fill="#b7b7b7"/>
<rect x="496.12" y="242.4" width="3.35" height="11.3" fill="#d0d0d0"/>
<rect x="496.73" y="242.4" width="1.85" height="11.3" fill="#b7b7b7"/>
<rect x="499.48" y="242.4" width="3.35" height="11.3" fill="#d0d0d0"/>
<rect x="500.08" y="242.4" width="1.85" height="11.3" fill="#b7b7b7"/>
<rect x="502.83" y="242.4" width="3.35" height="11.3" fill="#d0d0d0"/>
<rect x="503.43" y="242.4" width="1.85" height="11.3" fill="#b7b7b7"/>
<rect x="506.18" y="242.4" width="3.35" height="11.3" fill="#d0d0d0"/>
<rect x="506.78" y="242.4" width="1.85" height="11.3" fill="#b7b7b7"/>
<rect x="509.54" y="242.4" width="3.16" height="11.3" fill="#d0d0d0"/>
<rect x="510.14" y="242.4" width="1.85" height="11.3" fill="#b7b7b7"/>
<rect x="207.0" y="243.6" width="3.3" height="3.1" fill="#d0101a"/>
<rect x="207.0" y="246.7" width="3.3" height="7.0" fill="#78b83a"/>
<text x="77.3" y="244.3" font-size="3.2" fill="#333">[0-40]</text>
<rect x="77.0" y="256.4" width="435.70000000000005" height="37.0" fill="#d1d1d1"/>
<rect x="77.0" y="253.7" width="435.70000000000005" height="2.7" fill="#dcdcdc"/>
<rect x="77" y="256.5" width="2.5" height="1.0" fill="#fff"/>
<rect x="113" y="256.5" width="13.0" height="1.2" fill="#fff"/>
<rect x="126" y="256.5" width="47.0" height="3.0" fill="#fff"/>
<rect x="173" y="256.5" width="4.0" height="4.5" fill="#fff"/>
<rect x="177" y="256.5" width="23.0" height="6.0" fill="#fff"/>
<rect x="200" y="256.5" width="28.0" height="7.0" fill="#fff"/>
<rect x="228" y="258.3" width="6.0" height="5.2" fill="#fff"/>
<rect x="234" y="258" width="12.0" height="6.4" fill="#fff"/>
<rect x="246" y="261.7" width="15.0" height="3.9" fill="#fff"/>
<rect x="261" y="263.2" width="61.0" height="4.6" fill="#fff"/>
<rect x="322" y="262.5" width="8.0" height="5.9" fill="#fff"/>
<rect x="330" y="262.5" width="7.0" height="7.3" fill="#fff"/>
<rect x="337" y="264.5" width="11.0" height="5.3" fill="#fff"/>
<rect x="348" y="264.5" width="2.0" height="7.2" fill="#fff"/>
<rect x="350" y="266" width="25.0" height="5.7" fill="#fff"/>
<rect x="375" y="267" width="20.0" height="4.7" fill="#fff"/>
<rect x="395" y="267.3" width="3.4" height="4.3" fill="#fff"/>
<rect x="398.4" y="267.3" width="7.2" height="1.6" fill="#fff"/>
<rect x="405.6" y="268.7" width="9.6" height="1.5" fill="#fff"/>
<rect x="415.2" y="270.2" width="23.8" height="1.7" fill="#fff"/>
<rect x="439" y="271.6" width="60.0" height="3.2" fill="#fff"/>
<rect x="499" y="272.4" width="3.0" height="2.4" fill="#fff"/>
<rect x="237" y="277.2" width="83.0" height="1.4" fill="#fff"/>
<rect x="320" y="276.2" width="75.0" height="1.5" fill="#fff"/>
<rect x="395" y="276.4" width="10.0" height="1.5" fill="#fff"/>
<rect x="405" y="277.9" width="25.0" height="1.9" fill="#fff"/>
<rect x="430" y="276" width="5.0" height="3.8" fill="#fff"/>
<rect x="435" y="276" width="17.0" height="5.7" fill="#fff"/>
<rect x="452" y="276" width="3.0" height="6.7" fill="#fff"/>
<rect x="455" y="276.4" width="37.0" height="8.1" fill="#fff"/>
<rect x="492" y="276.7" width="20.7" height="10.8" fill="#fff"/>
<rect x="77" y="290" width="7.0" height="3.5" fill="#fff"/>
<rect x="84" y="292" width="33.0" height="1.5" fill="#fff"/>
<rect x="77.0" y="293.5" width="435.70000000000005" height="9.3" fill="#fbfbfb"/>
<rect x="207.0" y="255" width="3.3" height="1.6" fill="#7ab83c"/>
<rect x="207.0" y="264.6" width="3.3" height="2.6" fill="#7ab83c"/>
<rect x="207.0" y="269.2" width="3.3" height="1.4" fill="#7ab83c"/>
<rect x="207.0" y="272.3" width="3.3" height="4.2" fill="#7ab83c"/>
<rect x="207.0" y="280" width="3.3" height="2.6" fill="#7ab83c"/>
<rect x="207.0" y="284.6" width="3.3" height="2.8" fill="#7ab83c"/>
<rect x="207.0" y="289.2" width="3.3" height="2.8" fill="#7ab83c"/>
<rect x="186.7" y="273.6" width="3.1" height="1.3" fill="#7ab83c"/>
<rect x="401.5" y="273.6" width="3.4" height="1.4" fill="#7ab83c"/>
<rect x="257.5" y="265.9" width="3.2" height="1.4" fill="#d87a20"/>
<rect x="247.6" y="256" width="2.6" height="0.9" fill="#e6e6e6"/>
<rect x="247.6" y="259" width="2.6" height="0.9" fill="#e6e6e6"/>
<rect x="247.6" y="262" width="2.6" height="0.9" fill="#e6e6e6"/>
<rect x="247.6" y="265" width="2.6" height="0.9" fill="#e6e6e6"/>
<rect x="247.6" y="268" width="2.6" height="0.9" fill="#e6e6e6"/>
<rect x="247.6" y="271" width="2.6" height="0.9" fill="#e6e6e6"/>
<rect x="247.6" y="274" width="2.6" height="0.9" fill="#e6e6e6"/>
<rect x="247.6" y="277" width="2.6" height="0.9" fill="#e6e6e6"/>
<rect x="247.6" y="280" width="2.6" height="0.9" fill="#e6e6e6"/>
<rect x="247.6" y="283" width="2.6" height="0.9" fill="#e6e6e6"/>
<rect x="247.6" y="286" width="2.6" height="0.9" fill="#e6e6e6"/>
<rect x="247.6" y="289" width="2.6" height="0.9" fill="#e6e6e6"/>
<rect x="77.0" y="302.9" width="435.70000000000005" height="1.2" fill="#c9c9c9"/>
<rect x="77.00" y="304.6" width="3.35" height="12.3" fill="#d0d0d0"/>
<rect x="77.60" y="304.6" width="1.85" height="12.3" fill="#b7b7b7"/>
<rect x="80.35" y="304.6" width="3.35" height="12.3" fill="#d0d0d0"/>
<rect x="80.95" y="304.6" width="1.85" height="12.3" fill="#b7b7b7"/>
<rect x="83.71" y="304.6" width="3.35" height="12.3" fill="#d0d0d0"/>
<rect x="84.31" y="304.6" width="1.85" height="12.3" fill="#b7b7b7"/>
<rect x="87.06" y="304.6" width="3.35" height="12.3" fill="#d0d0d0"/>
<rect x="87.66" y="304.6" width="1.85" height="12.3" fill="#b7b7b7"/>
<rect x="90.41" y="304.6" width="3.35" height="12.3" fill="#d0d0d0"/>
<rect x="91.01" y="304.6" width="1.85" height="12.3" fill="#b7b7b7"/>
<rect x="93.77" y="304.6" width="3.35" height="12.3" fill="#d0d0d0"/>
<rect x="94.36" y="304.6" width="1.85" height="12.3" fill="#b7b7b7"/>
<rect x="97.12" y="304.6" width="3.35" height="12.3" fill="#d0d0d0"/>
<rect x="97.72" y="304.6" width="1.85" height="12.3" fill="#b7b7b7"/>
<rect x="100.47" y="304.6" width="3.35" height="12.3" fill="#d0d0d0"/>
<rect x="101.07" y="304.6" width="1.85" height="12.3" fill="#b7b7b7"/>
<rect x="103.82" y="304.6" width="3.35" height="12.3" fill="#d0d0d0"/>
<rect x="104.42" y="304.6" width="1.85" height="12.3" fill="#b7b7b7"/>
<rect x="107.18" y="304.6" width="3.35" height="12.3" fill="#d0d0d0"/>
<rect x="107.78" y="304.6" width="1.85" height="12.3" fill="#b7b7b7"/>
<rect x="110.53" y="304.6" width="3.35" height="12.3" fill="#d0d0d0"/>
<rect x="111.13" y="304.6" width="1.85" height="12.3" fill="#b7b7b7"/>
<rect x="113.88" y="304.6" width="3.35" height="12.3" fill="#d0d0d0"/>
<rect x="114.48" y="304.6" width="1.85" height="12.3" fill="#b7b7b7"/>
<rect x="117.24" y="304.6" width="3.35" height="12.3" fill="#d0d0d0"/>
<rect x="117.84" y="304.6" width="1.85" height="12.3" fill="#b7b7b7"/>
<rect x="120.59" y="304.6" width="3.35" height="12.3" fill="#d0d0d0"/>
<rect x="121.19" y="304.6" width="1.85" height="12.3" fill="#b7b7b7"/>
<rect x="123.94" y="304.6" width="3.35" height="12.3" fill="#d0d0d0"/>
<rect x="124.54" y="304.6" width="1.85" height="12.3" fill="#b7b7b7"/>
<rect x="127.30" y="304.6" width="3.35" height="12.3" fill="#d0d0d0"/>
<rect x="127.89" y="304.6" width="1.85" height="12.3" fill="#b7b7b7"/>
<rect x="130.65" y="304.6" width="3.35" height="12.3" fill="#d0d0d0"/>
<rect x="131.25" y="304.6" width="1.85" height="12.3" fill="#b7b7b7"/>
<rect x="134.00" y="304.6" width="3.35" height="12.3" fill="#d0d0d0"/>
<rect x="134.60" y="304.6" width="1.85" height="12.3" fill="#b7b7b7"/>
<rect x="137.35" y="304.6" width="3.35" height="12.3" fill="#d0d0d0"/>
<rect x="137.95" y="304.6" width="1.85" height="12.3" fill="#b7b7b7"/>
<rect x="140.71" y="304.6" width="3.35" height="12.3" fill="#d0d0d0"/>
<rect x="141.31" y="304.6" width="1.85" height="12.3" fill="#b7b7b7"/>
<rect x="144.06" y="304.6" width="3.35" height="12.3" fill="#d0d0d0"/>
<rect x="144.66" y="304.6" width="1.85" height="12.3" fill="#b7b7b7"/>
<rect x="147.41" y="304.6" width="3.35" height="12.3" fill="#d0d0d0"/>
<rect x="148.01" y="304.6" width="1.85" height="12.3" fill="#b7b7b7"/>
<rect x="150.77" y="304.6" width="3.35" height="12.3" fill="#d0d0d0"/>
<rect x="151.37" y="304.6" width="1.85" height="12.3" fill="#b7b7b7"/>
<rect x="154.12" y="304.6" width="3.35" height="12.3" fill="#d0d0d0"/>
<rect x="154.72" y="304.6" width="1.85" height="12.3" fill="#b7b7b7"/>
<rect x="157.47" y="304.6" width="3.35" height="12.3" fill="#d0d0d0"/>
<rect x="158.07" y="304.6" width="1.85" height="12.3" fill="#b7b7b7"/>
<rect x="160.82" y="304.6" width="3.35" height="12.3" fill="#d0d0d0"/>
<rect x="161.42" y="304.6" width="1.85" height="12.3" fill="#b7b7b7"/>
<rect x="164.18" y="304.6" width="3.35" height="12.3" fill="#d0d0d0"/>
<rect x="164.78" y="304.6" width="1.85" height="12.3" fill="#b7b7b7"/>
<rect x="167.53" y="304.6" width="3.35" height="12.3" fill="#d0d0d0"/>
<rect x="168.13" y="304.6" width="1.85" height="12.3" fill="#b7b7b7"/>
<rect x="170.88" y="304.6" width="3.35" height="12.3" fill="#d0d0d0"/>
<rect x="171.48" y="304.6" width="1.85" height="12.3" fill="#b7b7b7"/>
<rect x="174.24" y="304.6" width="3.35" height="12.3" fill="#d0d0d0"/>
<rect x="174.84" y="304.6" width="1.85" height="12.3" fill="#b7b7b7"/>
<rect x="177.59" y="304.6" width="3.35" height="12.3" fill="#d0d0d0"/>
<rect x="178.19" y="304.6" width="1.85" height="12.3" fill="#b7b7b7"/>
<rect x="180.94" y="304.6" width="3.35" height="12.3" fill="#d0d0d0"/>
<rect x="181.54" y="304.6" width="1.85" height="12.3" fill="#b7b7b7"/>
<rect x="184.30" y="304.6" width="3.35" height="12.3" fill="#d0d0d0"/>
<rect x="184.90" y="304.6" width="1.85" height="12.3" fill="#b7b7b7"/>
<rect x="187.65" y="304.6" width="3.35" height="12.3" fill="#d0d0d0"/>
<rect x="188.25" y="304.6" width="1.85" height="12.3" fill="#b7b7b7"/>
<rect x="191.00" y="304.6" width="3.35" height="12.3" fill="#d0d0d0"/>
<rect x="191.60" y="304.6" width="1.85" height="12.3" fill="#b7b7b7"/>
<rect x="194.36" y="304.6" width="3.35" height="12.3" fill="#d0d0d0"/>
<rect x="194.96" y="304.6" width="1.85" height="12.3" fill="#b7b7b7"/>
<rect x="197.71" y="304.6" width="3.35" height="12.3" fill="#d0d0d0"/>
<rect x="198.31" y="304.6" width="1.85" height="12.3" fill="#b7b7b7"/>
<rect x="201.06" y="304.6" width="3.35" height="12.3" fill="#d0d0d0"/>
<rect x="201.66" y="304.6" width="1.85" height="12.3" fill="#b7b7b7"/>
<rect x="204.41" y="304.6" width="3.35" height="12.3" fill="#d0d0d0"/>
<rect x="205.01" y="304.6" width="1.85" height="12.3" fill="#b7b7b7"/>
<rect x="207.77" y="304.6" width="3.35" height="12.3" fill="#d0d0d0"/>
<rect x="208.37" y="304.6" width="1.85" height="12.3" fill="#b7b7b7"/>
<rect x="211.12" y="304.6" width="3.35" height="12.3" fill="#d0d0d0"/>
<rect x="211.72" y="304.6" width="1.85" height="12.3" fill="#b7b7b7"/>
<rect x="214.47" y="304.6" width="3.35" height="12.3" fill="#d0d0d0"/>
<rect x="215.07" y="304.6" width="1.85" height="12.3" fill="#b7b7b7"/>
<rect x="217.83" y="304.6" width="3.35" height="12.3" fill="#d0d0d0"/>
<rect x="218.43" y="304.6" width="1.85" height="12.3" fill="#b7b7b7"/>
<rect x="221.18" y="304.6" width="3.35" height="12.3" fill="#d0d0d0"/>
<rect x="221.78" y="304.6" width="1.85" height="12.3" fill="#b7b7b7"/>
<rect x="224.53" y="304.6" width="3.35" height="12.3" fill="#d0d0d0"/>
<rect x="225.13" y="304.6" width="1.85" height="12.3" fill="#b7b7b7"/>
<rect x="227.89" y="304.6" width="3.35" height="12.3" fill="#d0d0d0"/>
<rect x="228.49" y="304.6" width="1.85" height="12.3" fill="#b7b7b7"/>
<rect x="231.24" y="304.6" width="3.35" height="12.3" fill="#d0d0d0"/>
<rect x="231.84" y="304.6" width="1.85" height="12.3" fill="#b7b7b7"/>
<rect x="234.59" y="304.6" width="3.35" height="12.3" fill="#d0d0d0"/>
<rect x="235.19" y="304.6" width="1.85" height="12.3" fill="#b7b7b7"/>
<rect x="237.94" y="306.6" width="3.35" height="10.3" fill="#d0d0d0"/>
<rect x="238.54" y="306.6" width="1.85" height="10.3" fill="#b7b7b7"/>
<rect x="241.30" y="306.6" width="3.35" height="10.3" fill="#d0d0d0"/>
<rect x="241.90" y="306.6" width="1.85" height="10.3" fill="#b7b7b7"/>
<rect x="244.65" y="306.6" width="3.35" height="10.3" fill="#d0d0d0"/>
<rect x="245.25" y="306.6" width="1.85" height="10.3" fill="#b7b7b7"/>
<rect x="251.36" y="306.6" width="3.35" height="10.3" fill="#d0d0d0"/>
<rect x="251.96" y="306.6" width="1.85" height="10.3" fill="#b7b7b7"/>
<rect x="254.71" y="306.6" width="3.35" height="10.3" fill="#d0d0d0"/>
<rect x="255.31" y="306.6" width="1.85" height="10.3" fill="#b7b7b7"/>
<rect x="258.06" y="306.6" width="3.35" height="10.3" fill="#d0d0d0"/>
<rect x="258.66" y="306.6" width="1.85" height="10.3" fill="#b7b7b7"/>
<rect x="261.42" y="306.6" width="3.35" height="10.3" fill="#d0d0d0"/>
<rect x="262.02" y="306.6" width="1.85" height="10.3" fill="#b7b7b7"/>
<rect x="264.77" y="306.6" width="3.35" height="10.3" fill="#d0d0d0"/>
<rect x="265.37" y="306.6" width="1.85" height="10.3" fill="#b7b7b7"/>
<rect x="268.12" y="306.6" width="3.35" height="10.3" fill="#d0d0d0"/>
<rect x="268.72" y="306.6" width="1.85" height="10.3" fill="#b7b7b7"/>
<rect x="271.47" y="304.6" width="3.35" height="12.3" fill="#d0d0d0"/>
<rect x="272.07" y="304.6" width="1.85" height="12.3" fill="#b7b7b7"/>
<rect x="274.83" y="304.6" width="3.35" height="12.3" fill="#d0d0d0"/>
<rect x="275.43" y="304.6" width="1.85" height="12.3" fill="#b7b7b7"/>
<rect x="278.18" y="304.6" width="3.35" height="12.3" fill="#d0d0d0"/>
<rect x="278.78" y="304.6" width="1.85" height="12.3" fill="#b7b7b7"/>
<rect x="281.53" y="304.6" width="3.35" height="12.3" fill="#d0d0d0"/>
<rect x="282.13" y="304.6" width="1.85" height="12.3" fill="#b7b7b7"/>
<rect x="284.89" y="304.6" width="3.35" height="12.3" fill="#d0d0d0"/>
<rect x="285.49" y="304.6" width="1.85" height="12.3" fill="#b7b7b7"/>
<rect x="288.24" y="304.6" width="3.35" height="12.3" fill="#d0d0d0"/>
<rect x="288.84" y="304.6" width="1.85" height="12.3" fill="#b7b7b7"/>
<rect x="291.59" y="304.6" width="3.35" height="12.3" fill="#d0d0d0"/>
<rect x="292.19" y="304.6" width="1.85" height="12.3" fill="#b7b7b7"/>
<rect x="294.95" y="304.6" width="3.35" height="12.3" fill="#d0d0d0"/>
<rect x="295.55" y="304.6" width="1.85" height="12.3" fill="#b7b7b7"/>
<rect x="298.30" y="304.6" width="3.35" height="12.3" fill="#d0d0d0"/>
<rect x="298.90" y="304.6" width="1.85" height="12.3" fill="#b7b7b7"/>
<rect x="301.65" y="304.6" width="3.35" height="12.3" fill="#d0d0d0"/>
<rect x="302.25" y="304.6" width="1.85" height="12.3" fill="#b7b7b7"/>
<rect x="305.00" y="304.6" width="3.35" height="12.3" fill="#d0d0d0"/>
<rect x="305.60" y="304.6" width="1.85" height="12.3" fill="#b7b7b7"/>
<rect x="308.36" y="304.6" width="3.35" height="12.3" fill="#d0d0d0"/>
<rect x="308.96" y="304.6" width="1.85" height="12.3" fill="#b7b7b7"/>
<rect x="311.71" y="304.6" width="3.35" height="12.3" fill="#d0d0d0"/>
<rect x="312.31" y="304.6" width="1.85" height="12.3" fill="#b7b7b7"/>
<rect x="315.06" y="304.6" width="3.35" height="12.3" fill="#d0d0d0"/>
<rect x="315.66" y="304.6" width="1.85" height="12.3" fill="#b7b7b7"/>
<rect x="318.42" y="304.6" width="3.35" height="12.3" fill="#d0d0d0"/>
<rect x="319.02" y="304.6" width="1.85" height="12.3" fill="#b7b7b7"/>
<rect x="321.77" y="304.6" width="3.35" height="12.3" fill="#d0d0d0"/>
<rect x="322.37" y="304.6" width="1.85" height="12.3" fill="#b7b7b7"/>
<rect x="325.12" y="304.6" width="3.35" height="12.3" fill="#d0d0d0"/>
<rect x="325.72" y="304.6" width="1.85" height="12.3" fill="#b7b7b7"/>
<rect x="328.48" y="304.6" width="3.35" height="12.3" fill="#d0d0d0"/>
<rect x="329.08" y="304.6" width="1.85" height="12.3" fill="#b7b7b7"/>
<rect x="331.83" y="304.6" width="3.35" height="12.3" fill="#d0d0d0"/>
<rect x="332.43" y="304.6" width="1.85" height="12.3" fill="#b7b7b7"/>
<rect x="335.18" y="304.6" width="3.35" height="12.3" fill="#d0d0d0"/>
<rect x="335.78" y="304.6" width="1.85" height="12.3" fill="#b7b7b7"/>
<rect x="338.53" y="304.6" width="3.35" height="12.3" fill="#d0d0d0"/>
<rect x="339.13" y="304.6" width="1.85" height="12.3" fill="#b7b7b7"/>
<rect x="341.89" y="304.6" width="3.35" height="12.3" fill="#d0d0d0"/>
<rect x="342.49" y="304.6" width="1.85" height="12.3" fill="#b7b7b7"/>
<rect x="345.24" y="304.6" width="3.35" height="12.3" fill="#d0d0d0"/>
<rect x="345.84" y="304.6" width="1.85" height="12.3" fill="#b7b7b7"/>
<rect x="348.59" y="304.6" width="3.35" height="12.3" fill="#d0d0d0"/>
<rect x="349.19" y="304.6" width="1.85" height="12.3" fill="#b7b7b7"/>
<rect x="351.95" y="304.6" width="3.35" height="12.3" fill="#d0d0d0"/>
<rect x="352.55" y="304.6" width="1.85" height="12.3" fill="#b7b7b7"/>
<rect x="355.30" y="304.6" width="3.35" height="12.3" fill="#d0d0d0"/>
<rect x="355.90" y="304.6" width="1.85" height="12.3" fill="#b7b7b7"/>
<rect x="358.65" y="304.6" width="3.35" height="12.3" fill="#d0d0d0"/>
<rect x="359.25" y="304.6" width="1.85" height="12.3" fill="#b7b7b7"/>
<rect x="362.00" y="304.6" width="3.35" height="12.3" fill="#d0d0d0"/>
<rect x="362.61" y="304.6" width="1.85" height="12.3" fill="#b7b7b7"/>
<rect x="365.36" y="304.6" width="3.35" height="12.3" fill="#d0d0d0"/>
<rect x="365.96" y="304.6" width="1.85" height="12.3" fill="#b7b7b7"/>
<rect x="368.71" y="304.6" width="3.35" height="12.3" fill="#d0d0d0"/>
<rect x="369.31" y="304.6" width="1.85" height="12.3" fill="#b7b7b7"/>
<rect x="372.06" y="304.6" width="3.35" height="12.3" fill="#d0d0d0"/>
<rect x="372.66" y="304.6" width="1.85" height="12.3" fill="#b7b7b7"/>
<rect x="375.42" y="304.6" width="3.35" height="12.3" fill="#d0d0d0"/>
<rect x="376.02" y="304.6" width="1.85" height="12.3" fill="#b7b7b7"/>
<rect x="378.77" y="304.6" width="3.35" height="12.3" fill="#d0d0d0"/>
<rect x="379.37" y="304.6" width="1.85" height="12.3" fill="#b7b7b7"/>
<rect x="382.12" y="304.6" width="3.35" height="12.3" fill="#d0d0d0"/>
<rect x="382.72" y="304.6" width="1.85" height="12.3" fill="#b7b7b7"/>
<rect x="385.48" y="304.6" width="3.35" height="12.3" fill="#d0d0d0"/>
<rect x="386.08" y="304.6" width="1.85" height="12.3" fill="#b7b7b7"/>
<rect x="388.83" y="304.6" width="3.35" height="12.3" fill="#d0d0d0"/>
<rect x="389.43" y="304.6" width="1.85" height="12.3" fill="#b7b7b7"/>
<rect x="392.18" y="304.6" width="3.35" height="12.3" fill="#d0d0d0"/>
<rect x="392.78" y="304.6" width="1.85" height="12.3" fill="#b7b7b7"/>
<rect x="395.54" y="304.6" width="3.35" height="12.3" fill="#d0d0d0"/>
<rect x="396.14" y="304.6" width="1.85" height="12.3" fill="#b7b7b7"/>
<rect x="398.89" y="304.6" width="3.35" height="12.3" fill="#d0d0d0"/>
<rect x="399.49" y="304.6" width="1.85" height="12.3" fill="#b7b7b7"/>
<rect x="402.24" y="304.6" width="3.35" height="12.3" fill="#d0d0d0"/>
<rect x="402.84" y="304.6" width="1.85" height="12.3" fill="#b7b7b7"/>
<rect x="405.59" y="304.6" width="3.35" height="12.3" fill="#d0d0d0"/>
<rect x="406.19" y="304.6" width="1.85" height="12.3" fill="#b7b7b7"/>
<rect x="408.95" y="304.6" width="3.35" height="12.3" fill="#d0d0d0"/>
<rect x="409.55" y="304.6" width="1.85" height="12.3" fill="#b7b7b7"/>
<rect x="412.30" y="304.6" width="3.35" height="12.3" fill="#d0d0d0"/>
<rect x="412.90" y="304.6" width="1.85" height="12.3" fill="#b7b7b7"/>
<rect x="415.65" y="304.6" width="3.35" height="12.3" fill="#d0d0d0"/>
<rect x="416.25" y="304.6" width="1.85" height="12.3" fill="#b7b7b7"/>
<rect x="419.01" y="304.6" width="3.35" height="12.3" fill="#d0d0d0"/>
<rect x="419.61" y="304.6" width="1.85" height="12.3" fill="#b7b7b7"/>
<rect x="422.36" y="304.6" width="3.35" height="12.3" fill="#d0d0d0"/>
<rect x="422.96" y="304.6" width="1.85" height="12.3" fill="#b7b7b7"/>
<rect x="425.71" y="304.6" width="3.35" height="12.3" fill="#d0d0d0"/>
<rect x="426.31" y="304.6" width="1.85" height="12.3" fill="#b7b7b7"/>
<rect x="429.06" y="304.6" width="3.35" height="12.3" fill="#d0d0d0"/>
<rect x="429.67" y="304.6" width="1.85" height="12.3" fill="#b7b7b7"/>
<rect x="432.42" y="304.6" width="3.35" height="12.3" fill="#d0d0d0"/>
<rect x="433.02" y="304.6" width="1.85" height="12.3" fill="#b7b7b7"/>
<rect x="435.77" y="304.6" width="3.35" height="12.3" fill="#d0d0d0"/>
<rect x="436.37" y="304.6" width="1.85" height="12.3" fill="#b7b7b7"/>
<rect x="439.12" y="304.6" width="3.35" height="12.3" fill="#d0d0d0"/>
<rect x="439.72" y="304.6" width="1.85" height="12.3" fill="#b7b7b7"/>
<rect x="442.48" y="304.6" width="3.35" height="12.3" fill="#d0d0d0"/>
<rect x="443.08" y="304.6" width="1.85" height="12.3" fill="#b7b7b7"/>
<rect x="445.83" y="304.6" width="3.35" height="12.3" fill="#d0d0d0"/>
<rect x="446.43" y="304.6" width="1.85" height="12.3" fill="#b7b7b7"/>
<rect x="449.18" y="304.6" width="3.35" height="12.3" fill="#d0d0d0"/>
<rect x="449.78" y="304.6" width="1.85" height="12.3" fill="#b7b7b7"/>
<rect x="452.54" y="304.6" width="3.35" height="12.3" fill="#d0d0d0"/>
<rect x="453.14" y="304.6" width="1.85" height="12.3" fill="#b7b7b7"/>
<rect x="455.89" y="304.6" width="3.35" height="12.3" fill="#d0d0d0"/>
<rect x="456.49" y="304.6" width="1.85" height="12.3" fill="#b7b7b7"/>
<rect x="459.24" y="304.6" width="3.35" height="12.3" fill="#d0d0d0"/>
<rect x="459.84" y="304.6" width="1.85" height="12.3" fill="#b7b7b7"/>
<rect x="462.60" y="304.6" width="3.35" height="12.3" fill="#d0d0d0"/>
<rect x="463.20" y="304.6" width="1.85" height="12.3" fill="#b7b7b7"/>
<rect x="465.95" y="304.6" width="3.35" height="12.3" fill="#d0d0d0"/>
<rect x="466.55" y="304.6" width="1.85" height="12.3" fill="#b7b7b7"/>
<rect x="469.30" y="304.6" width="3.35" height="12.3" fill="#d0d0d0"/>
<rect x="469.90" y="304.6" width="1.85" height="12.3" fill="#b7b7b7"/>
<rect x="472.65" y="304.6" width="3.35" height="12.3" fill="#d0d0d0"/>
<rect x="473.25" y="304.6" width="1.85" height="12.3" fill="#b7b7b7"/>
<rect x="476.01" y="304.6" width="3.35" height="12.3" fill="#d0d0d0"/>
<rect x="476.61" y="304.6" width="1.85" height="12.3" fill="#b7b7b7"/>
<rect x="479.36" y="304.6" width="3.35" height="12.3" fill="#d0d0d0"/>
<rect x="479.96" y="304.6" width="1.85" height="12.3" fill="#b7b7b7"/>
<rect x="482.71" y="304.6" width="3.35" height="12.3" fill="#d0d0d0"/>
<rect x="483.31" y="304.6" width="1.85" height="12.3" fill="#b7b7b7"/>
<rect x="486.07" y="304.6" width="3.35" height="12.3" fill="#d0d0d0"/>
<rect x="486.67" y="304.6" width="1.85" height="12.3" fill="#b7b7b7"/>
<rect x="489.42" y="304.6" width="3.35" height="12.3" fill="#d0d0d0"/>
<rect x="490.02" y="304.6" width="1.85" height="12.3" fill="#b7b7b7"/>
<rect x="492.77" y="306.8" width="3.35" height="10.1" fill="#d0d0d0"/>
<rect x="493.37" y="306.8" width="1.85" height="10.1" fill="#b7b7b7"/>
<rect x="496.12" y="306.8" width="3.35" height="10.1" fill="#d0d0d0"/>
<rect x="496.73" y="306.8" width="1.85" height="10.1" fill="#b7b7b7"/>
<rect x="499.48" y="306.8" width="3.35" height="10.1" fill="#d0d0d0"/>
<rect x="500.08" y="306.8" width="1.85" height="10.1" fill="#b7b7b7"/>
<rect x="502.83" y="306.8" width="3.35" height="10.1" fill="#d0d0d0"/>
<rect x="503.43" y="306.8" width="1.85" height="10.1" fill="#b7b7b7"/>
<rect x="506.18" y="306.8" width="3.35" height="10.1" fill="#d0d0d0"/>
<rect x="506.78" y="306.8" width="1.85" height="10.1" fill="#b7b7b7"/>
<rect x="509.54" y="306.8" width="3.16" height="10.1" fill="#d0d0d0"/>
<rect x="510.14" y="306.8" width="1.85" height="10.1" fill="#b7b7b7"/>
<rect x="207.0" y="304.6" width="3.3" height="12.3" fill="#78b83a"/>
<text x="77.3" y="307.6" font-size="3.2" fill="#333">[0-40]</text>
<rect x="77.0" y="316.9" width="435.70000000000005" height="1.6" fill="#eeeeee"/>
<rect x="77.0" y="318.6" width="435.70000000000005" height="39.7" fill="#d1d1d1"/>
<rect x="77" y="318.6" width="3.0" height="2.7" fill="#fff"/>
<rect x="123" y="321.7" width="7.2" height="1.3" fill="#fff"/>
<rect x="139.8" y="322.8" width="50.0" height="1.8" fill="#fff"/>
<rect x="189.8" y="323.5" width="30.4" height="2.8" fill="#fff"/>
<rect x="220.2" y="324.1" width="3.8" height="2.2" fill="#fff"/>
<rect x="474.8" y="318.6" width="17.2" height="1.4" fill="#fff"/>
<rect x="492" y="318.6" width="20.7" height="3.4" fill="#fff"/>
<rect x="331" y="334.5" width="67.8" height="2.5" fill="#fff"/>
<rect x="363.8" y="336.5" width="55.0" height="1.8" fill="#fff"/>
<rect x="377.5" y="341.8" width="50.0" height="1.7" fill="#fff"/>
<rect x="428.6" y="338.5" width="17.4" height="1.5" fill="#fff"/>
<rect x="420" y="341.5" width="8.6" height="1.5" fill="#fff"/>
<rect x="431.5" y="343.3" width="20.2" height="2.5" fill="#fff"/>
<rect x="451.7" y="344.8" width="61.0" height="1.9" fill="#fff"/>
<polygon points="233,326 265,326 265,328.8 273,328.8 273,330.4 290,330.4 290,331.5 311,331.5 311,333.7 237,333.7 237,329.6 233,329.6" fill="#fff"/>
<rect x="77" y="353.8" width="17.0" height="4.5" fill="#fff"/>
<rect x="94" y="355.5" width="16.0" height="2.8" fill="#fff"/>
<rect x="110" y="357.5" width="30.0" height="0.8" fill="#fff"/>
<rect x="77.0" y="328.0" width="156.5" height="1.3" fill="#c3262b"/>
<rect x="207.0" y="318.6" width="3.3" height="4.7" fill="#78b83a"/>
<rect x="207.0" y="327.4" width="3.3" height="30.7" fill="#78b83a"/>
<rect x="247.6" y="320" width="2.6" height="0.9" fill="#e6e6e6"/>
<rect x="247.6" y="323" width="2.6" height="0.9" fill="#e6e6e6"/>
<rect x="247.6" y="326" width="2.6" height="0.9" fill="#e6e6e6"/>
<rect x="247.6" y="329" width="2.6" height="0.9" fill="#e6e6e6"/>
<rect x="247.6" y="332" width="2.6" height="0.9" fill="#e6e6e6"/>
<rect x="247.6" y="335" width="2.6" height="0.9" fill="#e6e6e6"/>
<rect x="247.6" y="338" width="2.6" height="0.9" fill="#e6e6e6"/>
<rect x="247.6" y="341" width="2.6" height="0.9" fill="#e6e6e6"/>
<rect x="247.6" y="344" width="2.6" height="0.9" fill="#e6e6e6"/>
<rect x="247.6" y="347" width="2.6" height="0.9" fill="#e6e6e6"/>
<rect x="247.6" y="350" width="2.6" height="0.9" fill="#e6e6e6"/>
<rect x="247.6" y="353" width="2.6" height="0.9" fill="#e6e6e6"/>
<rect x="247.6" y="356" width="2.6" height="0.9" fill="#e6e6e6"/>
<rect x="77.0" y="358.3" width="435.70000000000005" height="10.2" fill="#fbfbfb"/>
<rect x="77.0" y="368.9" width="435.70000000000005" height="1.4" fill="#bdbdbd"/>
<text x="78.68" y="374.0" text-anchor="middle" font-size="3.4" fill="#d02a2a" fill-opacity="0.85">T</text>
<text x="82.03" y="374.0" text-anchor="middle" font-size="3.4" fill="#2a3fd0" fill-opacity="0.85">C</text>
<text x="85.38" y="374.0" text-anchor="middle" font-size="3.4" fill="#2a3fd0" fill-opacity="0.85">C</text>
<text x="88.74" y="374.0" text-anchor="middle" font-size="3.4" fill="#2a3fd0" fill-opacity="0.85">C</text>
<text x="92.09" y="374.0" text-anchor="middle" font-size="3.4" fill="#2a3fd0" fill-opacity="0.85">C</text>
<text x="95.44" y="374.0" text-anchor="middle" font-size="3.4" fill="#2a3fd0" fill-opacity="0.85">C</text>
<text x="98.79" y="374.0" text-anchor="middle" font-size="3.4" fill="#2a3fd0" fill-opacity="0.85">C</text>
<text x="102.15" y="374.0" text-anchor="middle" font-size="3.4" fill="#2f9a2f" fill-opacity="0.85">A</text>
<text x="105.50" y="374.0" text-anchor="middle" font-size="3.4" fill="#2f9a2f" fill-opacity="0.85">A</text>
<text x="108.85" y="374.0" text-anchor="middle" font-size="3.4" fill="#2a3fd0" fill-opacity="0.85">C</text>
<text x="112.21" y="374.0" text-anchor="middle" font-size="3.4" fill="#2a3fd0" fill-opacity="0.85">C</text>
<text x="115.56" y="374.0" text-anchor="middle" font-size="3.4" fill="#2a3fd0" fill-opacity="0.85">C</text>
<text x="118.91" y="374.0" text-anchor="middle" font-size="3.4" fill="#2f9a2f" fill-opacity="0.85">A</text>
<text x="122.27" y="374.0" text-anchor="middle" font-size="3.4" fill="#d98a10" fill-opacity="0.85">G</text>
<text x="125.62" y="374.0" text-anchor="middle" font-size="3.4" fill="#d02a2a" fill-opacity="0.85">T</text>
<text x="128.97" y="374.0" text-anchor="middle" font-size="3.4" fill="#d98a10" fill-opacity="0.85">G</text>
<text x="132.32" y="374.0" text-anchor="middle" font-size="3.4" fill="#2a3fd0" fill-opacity="0.85">C</text>
<text x="135.68" y="374.0" text-anchor="middle" font-size="3.4" fill="#d02a2a" fill-opacity="0.85">T</text>
<text x="139.03" y="374.0" text-anchor="middle" font-size="3.4" fill="#2a3fd0" fill-opacity="0.85">C</text>
<text x="142.38" y="374.0" text-anchor="middle" font-size="3.4" fill="#d02a2a" fill-opacity="0.85">T</text>
<text x="145.74" y="374.0" text-anchor="middle" font-size="3.4" fill="#d98a10" fill-opacity="0.85">G</text>
<text x="149.09" y="374.0" text-anchor="middle" font-size="3.4" fill="#d98a10" fill-opacity="0.85">G</text>
<text x="152.44" y="374.0" text-anchor="middle" font-size="3.4" fill="#d02a2a" fill-opacity="0.85">T</text>
<text x="155.80" y="374.0" text-anchor="middle" font-size="3.4" fill="#2a3fd0" fill-opacity="0.85">C</text>
<text x="159.15" y="374.0" text-anchor="middle" font-size="3.4" fill="#2f9a2f" fill-opacity="0.85">A</text>
<text x="162.50" y="374.0" text-anchor="middle" font-size="3.4" fill="#d98a10" fill-opacity="0.85">G</text>
<text x="165.85" y="374.0" text-anchor="middle" font-size="3.4" fill="#2f9a2f" fill-opacity="0.85">A</text>
<text x="169.21" y="374.0" text-anchor="middle" font-size="3.4" fill="#d98a10" fill-opacity="0.85">G</text>
<text x="172.56" y="374.0" text-anchor="middle" font-size="3.4" fill="#2a3fd0" fill-opacity="0.85">C</text>
<text x="175.91" y="374.0" text-anchor="middle" font-size="3.4" fill="#d02a2a" fill-opacity="0.85">T</text>
<text x="179.27" y="374.0" text-anchor="middle" font-size="3.4" fill="#d02a2a" fill-opacity="0.85">T</text>
<text x="182.62" y="374.0" text-anchor="middle" font-size="3.4" fill="#2a3fd0" fill-opacity="0.85">C</text>
<text x="185.97" y="374.0" text-anchor="middle" font-size="3.4" fill="#2f9a2f" fill-opacity="0.85">A</text>
<text x="189.33" y="374.0" text-anchor="middle" font-size="3.4" fill="#d02a2a" fill-opacity="0.85">T</text>
<text x="192.68" y="374.0" text-anchor="middle" font-size="3.4" fill="#d02a2a" fill-opacity="0.85">T</text>
<text x="196.03" y="374.0" text-anchor="middle" font-size="3.4" fill="#2f9a2f" fill-opacity="0.85">A</text>
<text x="199.38" y="374.0" text-anchor="middle" font-size="3.4" fill="#d02a2a" fill-opacity="0.85">T</text>
<text x="202.74" y="374.0" text-anchor="middle" font-size="3.4" fill="#d02a2a" fill-opacity="0.85">T</text>
<text x="206.09" y="374.0" text-anchor="middle" font-size="3.4" fill="#2a3fd0" fill-opacity="0.85">C</text>
<text x="209.44" y="374.0" text-anchor="middle" font-size="3.4" fill="#2f9a2f" fill-opacity="0.85">A</text>
<text x="212.80" y="374.0" text-anchor="middle" font-size="3.4" fill="#2f9a2f" fill-opacity="0.85">A</text>
<text x="216.15" y="374.0" text-anchor="middle" font-size="3.4" fill="#2f9a2f" fill-opacity="0.85">A</text>
<text x="219.50" y="374.0" text-anchor="middle" font-size="3.4" fill="#d98a10" fill-opacity="0.85">G</text>
<text x="222.86" y="374.0" text-anchor="middle" font-size="3.4" fill="#d02a2a" fill-opacity="0.85">T</text>
<text x="226.21" y="374.0" text-anchor="middle" font-size="3.4" fill="#d02a2a" fill-opacity="0.85">T</text>
<text x="229.56" y="374.0" text-anchor="middle" font-size="3.4" fill="#d98a10" fill-opacity="0.85">G</text>
<text x="232.91" y="374.0" text-anchor="middle" font-size="3.4" fill="#d98a10" fill-opacity="0.85">G</text>
<text x="236.27" y="374.0" text-anchor="middle" font-size="3.4" fill="#d02a2a" fill-opacity="0.85">T</text>
<text x="239.62" y="374.0" text-anchor="middle" font-size="3.4" fill="#d98a10" fill-opacity="0.85">G</text>
<text x="242.97" y="374.0" text-anchor="middle" font-size="3.4" fill="#d02a2a" fill-opacity="0.85">T</text>
<text x="246.33" y="374.0" text-anchor="middle" font-size="3.4" fill="#2a3fd0" fill-opacity="0.85">C</text>
<text x="249.68" y="374.0" text-anchor="middle" font-size="3.4" fill="#2a3fd0" fill-opacity="0.85">C</text>
<text x="253.03" y="374.0" text-anchor="middle" font-size="3.4" fill="#2f9a2f" fill-opacity="0.85">A</text>
<text x="256.39" y="374.0" text-anchor="middle" font-size="3.4" fill="#d02a2a" fill-opacity="0.85">T</text>
<text x="259.74" y="374.0" text-anchor="middle" font-size="3.4" fill="#2a3fd0" fill-opacity="0.85">C</text>
<text x="263.09" y="374.0" text-anchor="middle" font-size="3.4" fill="#d98a10" fill-opacity="0.85">G</text>
<text x="266.44" y="374.0" text-anchor="middle" font-size="3.4" fill="#d98a10" fill-opacity="0.85">G</text>
<text x="269.80" y="374.0" text-anchor="middle" font-size="3.4" fill="#d02a2a" fill-opacity="0.85">T</text>
<text x="273.15" y="374.0" text-anchor="middle" font-size="3.4" fill="#d02a2a" fill-opacity="0.85">T</text>
<text x="276.50" y="374.0" text-anchor="middle" font-size="3.4" fill="#2a3fd0" fill-opacity="0.85">C</text>
<text x="279.86" y="374.0" text-anchor="middle" font-size="3.4" fill="#2f9a2f" fill-opacity="0.85">A</text>
<text x="283.21" y="374.0" text-anchor="middle" font-size="3.4" fill="#d98a10" fill-opacity="0.85">G</text>
<text x="286.56" y="374.0" text-anchor="middle" font-size="3.4" fill="#2f9a2f" fill-opacity="0.85">A</text>
<text x="289.92" y="374.0" text-anchor="middle" font-size="3.4" fill="#2f9a2f" fill-opacity="0.85">A</text>
<text x="293.27" y="374.0" text-anchor="middle" font-size="3.4" fill="#d98a10" fill-opacity="0.85">G</text>
<text x="296.62" y="374.0" text-anchor="middle" font-size="3.4" fill="#2a3fd0" fill-opacity="0.85">C</text>
<text x="299.97" y="374.0" text-anchor="middle" font-size="3.4" fill="#d02a2a" fill-opacity="0.85">T</text>
<text x="303.33" y="374.0" text-anchor="middle" font-size="3.4" fill="#d02a2a" fill-opacity="0.85">T</text>
<text x="306.68" y="374.0" text-anchor="middle" font-size="3.4" fill="#d98a10" fill-opacity="0.85">G</text>
<text x="310.03" y="374.0" text-anchor="middle" font-size="3.4" fill="#d98a10" fill-opacity="0.85">G</text>
<text x="313.39" y="374.0" text-anchor="middle" font-size="3.4" fill="#d02a2a" fill-opacity="0.85">T</text>
<text x="316.74" y="374.0" text-anchor="middle" font-size="3.4" fill="#d98a10" fill-opacity="0.85">G</text>
<text x="320.09" y="374.0" text-anchor="middle" font-size="3.4" fill="#2a3fd0" fill-opacity="0.85">C</text>
<text x="323.45" y="374.0" text-anchor="middle" font-size="3.4" fill="#d02a2a" fill-opacity="0.85">T</text>
<text x="326.80" y="374.0" text-anchor="middle" font-size="3.4" fill="#d02a2a" fill-opacity="0.85">T</text>
<text x="330.15" y="374.0" text-anchor="middle" font-size="3.4" fill="#2a3fd0" fill-opacity="0.85">C</text>
<text x="333.50" y="374.0" text-anchor="middle" font-size="3.4" fill="#d02a2a" fill-opacity="0.85">T</text>
<text x="336.86" y="374.0" text-anchor="middle" font-size="3.4" fill="#d98a10" fill-opacity="0.85">G</text>
<text x="340.21" y="374.0" text-anchor="middle" font-size="3.4" fill="#d98a10" fill-opacity="0.85">G</text>
<text x="343.56" y="374.0" text-anchor="middle" font-size="3.4" fill="#d02a2a" fill-opacity="0.85">T</text>
<text x="346.92" y="374.0" text-anchor="middle" font-size="3.4" fill="#d02a2a" fill-opacity="0.85">T</text>
<text x="350.27" y="374.0" text-anchor="middle" font-size="3.4" fill="#2f9a2f" fill-opacity="0.85">A</text>
<text x="353.62" y="374.0" text-anchor="middle" font-size="3.4" fill="#d02a2a" fill-opacity="0.85">T</text>
<text x="356.98" y="374.0" text-anchor="middle" font-size="3.4" fill="#d02a2a" fill-opacity="0.85">T</text>
<text x="360.33" y="374.0" text-anchor="middle" font-size="3.4" fill="#d02a2a" fill-opacity="0.85">T</text>
<text x="363.68" y="374.0" text-anchor="middle" font-size="3.4" fill="#d02a2a" fill-opacity="0.85">T</text>
<text x="367.03" y="374.0" text-anchor="middle" font-size="3.4" fill="#d98a10" fill-opacity="0.85">G</text>
<text x="370.39" y="374.0" text-anchor="middle" font-size="3.4" fill="#2f9a2f" fill-opacity="0.85">A</text>
<text x="373.74" y="374.0" text-anchor="middle" font-size="3.4" fill="#2f9a2f" fill-opacity="0.85">A</text>
<text x="377.09" y="374.0" text-anchor="middle" font-size="3.4" fill="#2f9a2f" fill-opacity="0.85">A</text>
<text x="380.45" y="374.0" text-anchor="middle" font-size="3.4" fill="#2f9a2f" fill-opacity="0.85">A</text>
<text x="383.80" y="374.0" text-anchor="middle" font-size="3.4" fill="#d02a2a" fill-opacity="0.85">T</text>
<text x="387.15" y="374.0" text-anchor="middle" font-size="3.4" fill="#d98a10" fill-opacity="0.85">G</text>
<text x="390.51" y="374.0" text-anchor="middle" font-size="3.4" fill="#2a3fd0" fill-opacity="0.85">C</text>
<text x="393.86" y="374.0" text-anchor="middle" font-size="3.4" fill="#2a3fd0" fill-opacity="0.85">C</text>
<text x="397.21" y="374.0" text-anchor="middle" font-size="3.4" fill="#2a3fd0" fill-opacity="0.85">C</text>
<text x="400.56" y="374.0" text-anchor="middle" font-size="3.4" fill="#d98a10" fill-opacity="0.85">G</text>
<text x="403.92" y="374.0" text-anchor="middle" font-size="3.4" fill="#d02a2a" fill-opacity="0.85">T</text>
<text x="407.27" y="374.0" text-anchor="middle" font-size="3.4" fill="#d98a10" fill-opacity="0.85">G</text>
<text x="410.62" y="374.0" text-anchor="middle" font-size="3.4" fill="#d02a2a" fill-opacity="0.85">T</text>
<text x="413.98" y="374.0" text-anchor="middle" font-size="3.4" fill="#d98a10" fill-opacity="0.85">G</text>
<text x="417.33" y="374.0" text-anchor="middle" font-size="3.4" fill="#2f9a2f" fill-opacity="0.85">A</text>
<text x="420.68" y="374.0" text-anchor="middle" font-size="3.4" fill="#2a3fd0" fill-opacity="0.85">C</text>
<text x="424.04" y="374.0" text-anchor="middle" font-size="3.4" fill="#2a3fd0" fill-opacity="0.85">C</text>
<text x="427.39" y="374.0" text-anchor="middle" font-size="3.4" fill="#2a3fd0" fill-opacity="0.85">C</text>
<text x="430.74" y="374.0" text-anchor="middle" font-size="3.4" fill="#d98a10" fill-opacity="0.85">G</text>
<text x="434.09" y="374.0" text-anchor="middle" font-size="3.4" fill="#2a3fd0" fill-opacity="0.85">C</text>
<text x="437.45" y="374.0" text-anchor="middle" font-size="3.4" fill="#2a3fd0" fill-opacity="0.85">C</text>
<text x="440.80" y="374.0" text-anchor="middle" font-size="3.4" fill="#d02a2a" fill-opacity="0.85">T</text>
<text x="444.15" y="374.0" text-anchor="middle" font-size="3.4" fill="#d02a2a" fill-opacity="0.85">T</text>
<text x="447.51" y="374.0" text-anchor="middle" font-size="3.4" fill="#2a3fd0" fill-opacity="0.85">C</text>
<text x="450.86" y="374.0" text-anchor="middle" font-size="3.4" fill="#2f9a2f" fill-opacity="0.85">A</text>
<text x="454.21" y="374.0" text-anchor="middle" font-size="3.4" fill="#d98a10" fill-opacity="0.85">G</text>
<text x="457.57" y="374.0" text-anchor="middle" font-size="3.4" fill="#2f9a2f" fill-opacity="0.85">A</text>
<text x="460.92" y="374.0" text-anchor="middle" font-size="3.4" fill="#d02a2a" fill-opacity="0.85">T</text>
<text x="464.27" y="374.0" text-anchor="middle" font-size="3.4" fill="#d98a10" fill-opacity="0.85">G</text>
<text x="467.62" y="374.0" text-anchor="middle" font-size="3.4" fill="#2a3fd0" fill-opacity="0.85">C</text>
<text x="470.98" y="374.0" text-anchor="middle" font-size="3.4" fill="#d02a2a" fill-opacity="0.85">T</text>
<text x="474.33" y="374.0" text-anchor="middle" font-size="3.4" fill="#d02a2a" fill-opacity="0.85">T</text>
<text x="477.68" y="374.0" text-anchor="middle" font-size="3.4" fill="#2a3fd0" fill-opacity="0.85">C</text>
<text x="481.04" y="374.0" text-anchor="middle" font-size="3.4" fill="#d02a2a" fill-opacity="0.85">T</text>
<text x="484.39" y="374.0" text-anchor="middle" font-size="3.4" fill="#d98a10" fill-opacity="0.85">G</text>
<text x="487.74" y="374.0" text-anchor="middle" font-size="3.4" fill="#2a3fd0" fill-opacity="0.85">C</text>
<text x="491.10" y="374.0" text-anchor="middle" font-size="3.4" fill="#d02a2a" fill-opacity="0.85">T</text>
<text x="494.45" y="374.0" text-anchor="middle" font-size="3.4" fill="#d98a10" fill-opacity="0.85">G</text>
<text x="497.80" y="374.0" text-anchor="middle" font-size="3.4" fill="#2f9a2f" fill-opacity="0.85">A</text>
<text x="501.15" y="374.0" text-anchor="middle" font-size="3.4" fill="#d02a2a" fill-opacity="0.85">T</text>
<text x="504.51" y="374.0" text-anchor="middle" font-size="3.4" fill="#d02a2a" fill-opacity="0.85">T</text>
<text x="507.86" y="374.0" text-anchor="middle" font-size="3.4" fill="#d02a2a" fill-opacity="0.85">T</text>
<text x="511.21" y="374.0" text-anchor="middle" font-size="3.4" fill="#2a3fd0" fill-opacity="0.85">C</text>
<rect x="77.0" y="376.3" width="408.5" height="4.2" fill="#1e1c68"/>
<rect x="78.63" y="376.3" width="5.2" height="4.2" fill="#423f94"/>
<text x="81.23" y="379.8" text-anchor="middle" font-size="3.8" fill="#eeeeff">G</text>
<rect x="88.69" y="376.3" width="5.2" height="4.2" fill="#423f94"/>
<text x="91.29" y="379.8" text-anchor="middle" font-size="3.8" fill="#eeeeff">G</text>
<rect x="98.75" y="376.3" width="5.2" height="4.2" fill="#423f94"/>
<text x="101.35" y="379.8" text-anchor="middle" font-size="3.8" fill="#eeeeff">L</text>
<rect x="108.81" y="376.3" width="5.2" height="4.2" fill="#423f94"/>
<text x="111.41" y="379.8" text-anchor="middle" font-size="3.8" fill="#eeeeff">G</text>
<rect x="118.87" y="376.3" width="5.2" height="4.2" fill="#423f94"/>
<text x="121.47" y="379.8" text-anchor="middle" font-size="3.8" fill="#eeeeff">T</text>
<rect x="128.92" y="376.3" width="5.2" height="4.2" fill="#423f94"/>
<text x="131.52" y="379.8" text-anchor="middle" font-size="3.8" fill="#eeeeff">S</text>
<rect x="138.98" y="376.3" width="5.2" height="4.2" fill="#423f94"/>
<text x="141.58" y="379.8" text-anchor="middle" font-size="3.8" fill="#eeeeff">D</text>
<rect x="149.04" y="376.3" width="5.2" height="4.2" fill="#423f94"/>
<text x="151.64" y="379.8" text-anchor="middle" font-size="3.8" fill="#eeeeff">Q</text>
<rect x="159.10" y="376.3" width="5.2" height="4.2" fill="#423f94"/>
<text x="161.70" y="379.8" text-anchor="middle" font-size="3.8" fill="#eeeeff">G</text>
<rect x="169.16" y="376.3" width="5.2" height="4.2" fill="#423f94"/>
<text x="171.76" y="379.8" text-anchor="middle" font-size="3.8" fill="#eeeeff">L</text>
<rect x="179.22" y="376.3" width="5.2" height="4.2" fill="#423f94"/>
<text x="181.82" y="379.8" text-anchor="middle" font-size="3.8" fill="#eeeeff">C</text>
<rect x="189.28" y="376.3" width="5.2" height="4.2" fill="#423f94"/>
<text x="191.88" y="379.8" text-anchor="middle" font-size="3.8" fill="#eeeeff">T</text>
<rect x="199.34" y="376.3" width="5.2" height="4.2" fill="#423f94"/>
<text x="201.94" y="379.8" text-anchor="middle" font-size="3.8" fill="#eeeeff">G</text>
<rect x="209.40" y="376.3" width="5.2" height="4.2" fill="#423f94"/>
<text x="212.00" y="379.8" text-anchor="middle" font-size="3.8" fill="#eeeeff">V</text>
<rect x="219.46" y="376.3" width="5.2" height="4.2" fill="#423f94"/>
<text x="222.06" y="379.8" text-anchor="middle" font-size="3.8" fill="#eeeeff">E</text>
<rect x="229.51" y="376.3" width="5.2" height="4.2" fill="#423f94"/>
<text x="232.11" y="379.8" text-anchor="middle" font-size="3.8" fill="#eeeeff">V</text>
<rect x="239.57" y="376.3" width="5.2" height="4.2" fill="#423f94"/>
<text x="242.17" y="379.8" text-anchor="middle" font-size="3.8" fill="#eeeeff">V</text>
<rect x="249.63" y="376.3" width="5.2" height="4.2" fill="#423f94"/>
<text x="252.23" y="379.8" text-anchor="middle" font-size="3.8" fill="#eeeeff">E</text>
<rect x="259.69" y="376.3" width="5.2" height="4.2" fill="#423f94"/>
<text x="262.29" y="379.8" text-anchor="middle" font-size="3.8" fill="#eeeeff">E</text>
<rect x="269.75" y="376.3" width="5.2" height="4.2" fill="#423f94"/>
<text x="272.35" y="379.8" text-anchor="middle" font-size="3.8" fill="#eeeeff">G</text>
<rect x="279.81" y="376.3" width="5.2" height="4.2" fill="#423f94"/>
<text x="282.41" y="379.8" text-anchor="middle" font-size="3.8" fill="#eeeeff">A</text>
<rect x="289.87" y="376.3" width="5.2" height="4.2" fill="#423f94"/>
<text x="292.47" y="379.8" text-anchor="middle" font-size="3.8" fill="#eeeeff">P</text>
<rect x="299.93" y="376.3" width="5.2" height="4.2" fill="#423f94"/>
<text x="302.53" y="379.8" text-anchor="middle" font-size="3.8" fill="#eeeeff">K</text>
<rect x="309.99" y="376.3" width="5.2" height="4.2" fill="#423f94"/>
<text x="312.59" y="379.8" text-anchor="middle" font-size="3.8" fill="#eeeeff">I</text>
<rect x="320.05" y="376.3" width="5.2" height="4.2" fill="#423f94"/>
<text x="322.65" y="379.8" text-anchor="middle" font-size="3.8" fill="#eeeeff">K</text>
<rect x="330.10" y="376.3" width="5.2" height="4.2" fill="#423f94"/>
<text x="332.70" y="379.8" text-anchor="middle" font-size="3.8" fill="#eeeeff">F</text>
<rect x="340.16" y="376.3" width="5.2" height="4.2" fill="#423f94"/>
<text x="342.76" y="379.8" text-anchor="middle" font-size="3.8" fill="#eeeeff">M</text>
<rect x="350.22" y="376.3" width="5.2" height="4.2" fill="#423f94"/>
<text x="352.82" y="379.8" text-anchor="middle" font-size="3.8" fill="#eeeeff">G</text>
<rect x="360.28" y="376.3" width="5.2" height="4.2" fill="#423f94"/>
<text x="362.88" y="379.8" text-anchor="middle" font-size="3.8" fill="#eeeeff">S</text>
<rect x="370.34" y="376.3" width="5.2" height="4.2" fill="#423f94"/>
<text x="372.94" y="379.8" text-anchor="middle" font-size="3.8" fill="#eeeeff">S</text>
<rect x="380.40" y="376.3" width="5.2" height="4.2" fill="#423f94"/>
<text x="383.00" y="379.8" text-anchor="middle" font-size="3.8" fill="#eeeeff">G</text>
<rect x="390.46" y="376.3" width="5.2" height="4.2" fill="#423f94"/>
<text x="393.06" y="379.8" text-anchor="middle" font-size="3.8" fill="#eeeeff">G</text>
<rect x="400.52" y="376.3" width="5.2" height="4.2" fill="#423f94"/>
<text x="403.12" y="379.8" text-anchor="middle" font-size="3.8" fill="#eeeeff">N</text>
<rect x="410.58" y="376.3" width="5.2" height="4.2" fill="#423f94"/>
<text x="413.18" y="379.8" text-anchor="middle" font-size="3.8" fill="#eeeeff">V</text>
<rect x="420.64" y="376.3" width="5.2" height="4.2" fill="#423f94"/>
<text x="423.24" y="379.8" text-anchor="middle" font-size="3.8" fill="#eeeeff">H</text>
<rect x="430.69" y="376.3" width="5.2" height="4.2" fill="#423f94"/>
<text x="433.29" y="379.8" text-anchor="middle" font-size="3.8" fill="#eeeeff">K</text>
<rect x="440.75" y="376.3" width="5.2" height="4.2" fill="#423f94"/>
<text x="443.35" y="379.8" text-anchor="middle" font-size="3.8" fill="#eeeeff">G</text>
<rect x="450.81" y="376.3" width="5.2" height="4.2" fill="#423f94"/>
<text x="453.41" y="379.8" text-anchor="middle" font-size="3.8" fill="#eeeeff">D</text>
<rect x="460.87" y="376.3" width="5.2" height="4.2" fill="#423f94"/>
<text x="463.47" y="379.8" text-anchor="middle" font-size="3.8" fill="#eeeeff">I</text>
<rect x="470.93" y="376.3" width="5.2" height="4.2" fill="#423f94"/>
<text x="473.53" y="379.8" text-anchor="middle" font-size="3.8" fill="#eeeeff">E</text>
<rect x="485.5" y="378" width="27.2" height="0.8" fill="#5a5ab8"/>
<path d="M489.5,376.9 L491.1,378.4 L489.5,379.9" stroke="#5a5ab8" stroke-width="0.7" fill="none"/>
<path d="M499.3,376.9 L500.90000000000003,378.4 L499.3,379.9" stroke="#5a5ab8" stroke-width="0.7" fill="none"/>
<path d="M509,376.9 L510.6,378.4 L509,379.9" stroke="#5a5ab8" stroke-width="0.7" fill="none"/>
<text x="274.4" y="393.4" font-size="9.1" font-style="italic" fill="#111">fga</text>
<text x="289.3" y="393.4" font-size="9.4" textLength="20.8" lengthAdjust="spacingAndGlyphs" fill="#111" stroke="#111" stroke-width="0.15">exon 6</text>
</g>
<g id="panelC">
<text x="6.6" y="423.7" font-weight="bold" font-size="12.2" fill="#000">C</text>
<line x1="42.15" y1="435.8" x2="42.15" y2="561.8" stroke="#111" stroke-width="1.5"/>
<line x1="41.4" y1="561.05" x2="250.5" y2="561.05" stroke="#111" stroke-width="1.5"/>
<line x1="39.2" y1="438.8" x2="42" y2="438.8" stroke="#1a1a1a" stroke-width="1"/>
<text x="35.8" y="441.8" text-anchor="end" font-size="8.3" fill="#222">120</text>
<line x1="39.2" y1="459.2" x2="42" y2="459.2" stroke="#1a1a1a" stroke-width="1"/>
<text x="35.8" y="462.2" text-anchor="end" font-size="8.3" fill="#222">100</text>
<line x1="39.2" y1="479.6" x2="42" y2="479.6" stroke="#1a1a1a" stroke-width="1"/>
<text x="35.8" y="482.6" text-anchor="end" font-size="8.3" fill="#222">80</text>
<line x1="39.2" y1="500.0" x2="42" y2="500.0" stroke="#1a1a1a" stroke-width="1"/>
<text x="35.8" y="503.0" text-anchor="end" font-size="8.3" fill="#222">60</text>
<line x1="39.2" y1="520.4" x2="42" y2="520.4" stroke="#1a1a1a" stroke-width="1"/>
<text x="35.8" y="523.4" text-anchor="end" font-size="8.3" fill="#222">40</text>
<line x1="39.2" y1="540.8" x2="42" y2="540.8" stroke="#1a1a1a" stroke-width="1"/>
<text x="35.8" y="543.8" text-anchor="end" font-size="8.3" fill="#222">20</text>
<line x1="39.2" y1="561.2" x2="42" y2="561.2" stroke="#1a1a1a" stroke-width="1"/>
<text x="35.8" y="564.2" text-anchor="end" font-size="8.3" fill="#222">0</text>
<line x1="74.0" y1="561.6" x2="74.0" y2="563.8" stroke="#1a1a1a" stroke-width="0.9"/>
<line x1="121.8" y1="561.6" x2="121.8" y2="563.8" stroke="#1a1a1a" stroke-width="0.9"/>
<line x1="169.6" y1="561.6" x2="169.6" y2="563.8" stroke="#1a1a1a" stroke-width="0.9"/>
<line x1="217.4" y1="561.6" x2="217.4" y2="563.8" stroke="#1a1a1a" stroke-width="0.9"/>
<text transform="translate(15.9,498.3) rotate(-90)" text-anchor="middle" font-size="10.8" stroke="#222" stroke-width="0.2" textLength="30.3" lengthAdjust="spacingAndGlyphs" fill="#222">TTO (sec)</text>
<text transform="translate(74,575.1) scale(0.9,1)" text-anchor="middle" font-size="9.0" fill="#111">AB x TL</text>
<text transform="translate(74.0,584.8) scale(0.93,1)" text-anchor="middle" font-size="8.6" fill="#111">(10)</text>
<text transform="translate(121.8,584.8) scale(0.93,1)" text-anchor="middle" font-size="8.6" fill="#111">(5)</text>
<text transform="translate(169.6,584.8) scale(0.93,1)" text-anchor="middle" font-size="8.6" fill="#111">(20)</text>
<text transform="translate(217.4,584.8) scale(0.93,1)" text-anchor="middle" font-size="8.6" fill="#111">(30)</text>
<text x="106.4" y="574.3" font-size="8.1" fill="#111"><tspan font-style="italic" font-size="8.4">fga</tspan><tspan font-size="6.5" dy="-2.4">4G/4G</tspan></text>
<text x="154.2" y="574.3" font-size="8.1" fill="#111"><tspan font-style="italic" font-size="8.4">fga</tspan><tspan font-size="6.5" dy="-2.4">4G/3G</tspan></text>
<text x="202.0" y="574.3" font-size="8.1" fill="#111"><tspan font-style="italic" font-size="8.4">fga</tspan><tspan font-size="6.5" dy="-2.4">3G/3G</tspan></text>
<path d="M166.9,426 V419.2 H218.8 V426" stroke="#222" stroke-width="1.25" fill="none"/>
<text x="187.6" y="418.6" text-anchor="middle" font-size="6.6" font-weight="bold" fill="#111">*</text>
<text x="190.9" y="418.6" text-anchor="middle" font-size="6.6" font-weight="bold" fill="#111">*</text>
<text x="194.2" y="418.6" text-anchor="middle" font-size="6.6" font-weight="bold" fill="#111">*</text>
<text x="197.5" y="418.6" text-anchor="middle" font-size="6.6" font-weight="bold" fill="#111">*</text>
<circle cx="60.8" cy="553" r="2.4" fill="none" stroke="#b0143a" stroke-width="1.3"/>
<circle cx="63.8" cy="553" r="2.4" fill="none" stroke="#b0143a" stroke-width="1.3"/>
<circle cx="66.9" cy="554.2" r="2.4" fill="none" stroke="#b0143a" stroke-width="1.3"/>
<circle cx="70" cy="553.6" r="2.4" fill="none" stroke="#b0143a" stroke-width="1.3"/>
<circle cx="72.6" cy="549.6" r="2.4" fill="none" stroke="#b0143a" stroke-width="1.3"/>
<circle cx="75.7" cy="550.8" r="2.4" fill="none" stroke="#b0143a" stroke-width="1.3"/>
<circle cx="78.5" cy="550.6" r="2.4" fill="none" stroke="#b0143a" stroke-width="1.3"/>
<circle cx="81.2" cy="554.4" r="2.4" fill="none" stroke="#b0143a" stroke-width="1.3"/>
<circle cx="84.3" cy="552" r="2.4" fill="none" stroke="#b0143a" stroke-width="1.3"/>
<circle cx="86.9" cy="556.2" r="2.4" fill="none" stroke="#b0143a" stroke-width="1.3"/>
<circle cx="109.8" cy="547.9" r="2.4" fill="none" stroke="#b0143a" stroke-width="1.3"/>
<circle cx="117.8" cy="548.8" r="2.4" fill="none" stroke="#b0143a" stroke-width="1.3"/>
<circle cx="121.8" cy="531.5" r="2.4" fill="none" stroke="#b0143a" stroke-width="1.3"/>
<circle cx="125.9" cy="552.1" r="2.4" fill="none" stroke="#b0143a" stroke-width="1.3"/>
<circle cx="133.7" cy="553.1" r="2.4" fill="none" stroke="#b0143a" stroke-width="1.3"/>
<circle cx="169.7" cy="527.5" r="2.4" fill="none" stroke="#b0143a" stroke-width="1.3"/>
<circle cx="169.7" cy="540.5" r="2.4" fill="none" stroke="#b0143a" stroke-width="1.3"/>
<circle cx="156.7" cy="543.6" r="2.4" fill="none" stroke="#b0143a" stroke-width="1.3"/>
<circle cx="173.8" cy="557" r="2.4" fill="none" stroke="#b0143a" stroke-width="1.3"/>
<circle cx="179.8" cy="557" r="2.4" fill="none" stroke="#b0143a" stroke-width="1.3"/>
<circle cx="182.7" cy="548.8" r="2.4" fill="none" stroke="#b0143a" stroke-width="1.3"/>
<circle cx="159" cy="551.5" r="2.4" fill="none" stroke="#b0143a" stroke-width="1.3"/>
<circle cx="161" cy="547.3" r="2.4" fill="none" stroke="#b0143a" stroke-width="1.3"/>
<circle cx="162" cy="553.5" r="2.4" fill="none" stroke="#b0143a" stroke-width="1.3"/>
<circle cx="164" cy="548.5" r="2.4" fill="none" stroke="#b0143a" stroke-width="1.3"/>
<circle cx="165.5" cy="554" r="2.4" fill="none" stroke="#b0143a" stroke-width="1.3"/>
<circle cx="166" cy="550" r="2.4" fill="none" stroke="#b0143a" stroke-width="1.3"/>
<circle cx="168" cy="548" r="2.4" fill="none" stroke="#b0143a" stroke-width="1.3"/>
<circle cx="170" cy="550.5" r="2.4" fill="none" stroke="#b0143a" stroke-width="1.3"/>
<circle cx="172" cy="548" r="2.4" fill="none" stroke="#b0143a" stroke-width="1.3"/>
<circle cx="174" cy="549.5" r="2.4" fill="none" stroke="#b0143a" stroke-width="1.3"/>
<circle cx="176" cy="548.5" r="2.4" fill="none" stroke="#b0143a" stroke-width="1.3"/>
<circle cx="178" cy="548.5" r="2.4" fill="none" stroke="#b0143a" stroke-width="1.3"/>
<circle cx="180" cy="549.5" r="2.4" fill="none" stroke="#b0143a" stroke-width="1.3"/>
<circle cx="217.4" cy="480.6" r="2.4" fill="none" stroke="#b0143a" stroke-width="1.3"/>
<circle cx="216.9" cy="504.1" r="2.4" fill="none" stroke="#b0143a" stroke-width="1.3"/>
<circle cx="217.9" cy="504.1" r="2.4" fill="none" stroke="#b0143a" stroke-width="1.3"/>
<circle cx="216.9" cy="514.1" r="2.4" fill="none" stroke="#b0143a" stroke-width="1.3"/>
<circle cx="217.9" cy="514.1" r="2.4" fill="none" stroke="#b0143a" stroke-width="1.3"/>
<circle cx="218.2" cy="521.3" r="2.4" fill="none" stroke="#b0143a" stroke-width="1.3"/>
<circle cx="216.6" cy="523.2" r="2.4" fill="none" stroke="#b0143a" stroke-width="1.3"/>
<circle cx="217.4" cy="547.7" r="2.4" fill="none" stroke="#b0143a" stroke-width="1.3"/>
<circle cx="215.9" cy="552.8" r="2.4" fill="none" stroke="#b0143a" stroke-width="1.3"/>
<circle cx="217.8" cy="554.8" r="2.4" fill="none" stroke="#b0143a" stroke-width="1.3"/>
<circle cx="219.1" cy="558.2" r="2.4" fill="none" stroke="#b0143a" stroke-width="1.3"/>
<line x1="204.6" y1="438.7" x2="230.6" y2="438.7" stroke="#b0143a" stroke-width="6" stroke-linecap="round"/>
<rect x="203.5" y="438.2" width="2.6" height="1" fill="#d88" />
<rect x="229.3" y="438.2" width="2.6" height="1" fill="#d88" />
</g>
<rect x="0" y="0" width="520" height="1.1" fill="#000"/>
<rect x="0" y="0" width="1.1" height="594" fill="#000"/>
<rect x="518.9" y="0" width="1.1" height="594" fill="#000"/>
<rect x="0" y="592.7" width="520" height="1.3" fill="#000"/>
</svg>
</body></html>
